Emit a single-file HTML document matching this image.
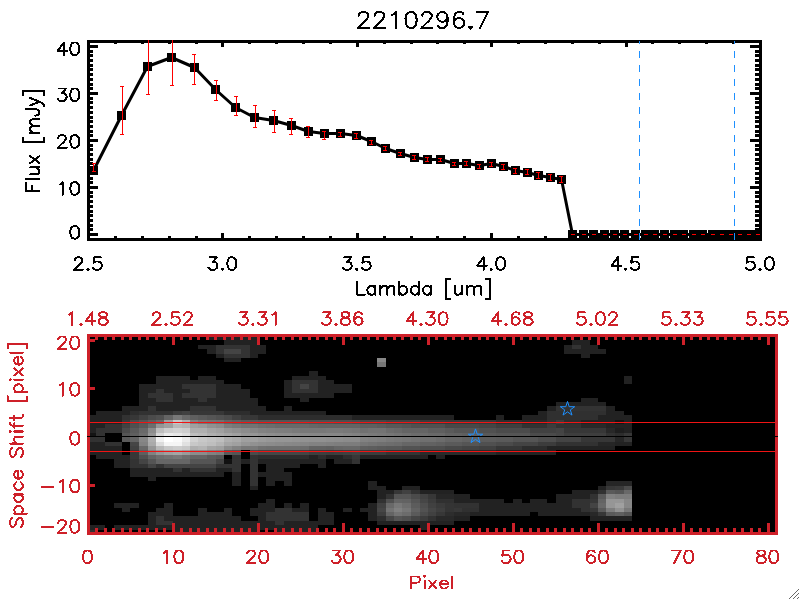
<!DOCTYPE html>
<html><head><meta charset="utf-8"><title>plot</title>
<style>html,body{margin:0;padding:0;background:#fff;font-family:"Liberation Sans",sans-serif}svg{display:block}</style></head>
<body>
<svg width="800" height="600" viewBox="0 0 800 600" shape-rendering="crispEdges">
<rect width="800" height="600" fill="#fff"/>
<g fill="#000"><rect x="114" y="43" width="3" height="1"/><rect x="114" y="236" width="3" height="2"/><rect x="141" y="43" width="3" height="1"/><rect x="141" y="236" width="3" height="2"/><rect x="168" y="43" width="3" height="1"/><rect x="168" y="236" width="3" height="2"/><rect x="195" y="43" width="3" height="1"/><rect x="195" y="236" width="3" height="2"/><rect x="221" y="43" width="3" height="4"/><rect x="221" y="233" width="3" height="5"/><rect x="248" y="43" width="3" height="1"/><rect x="248" y="236" width="3" height="2"/><rect x="275" y="43" width="3" height="1"/><rect x="275" y="236" width="3" height="2"/><rect x="302" y="43" width="3" height="1"/><rect x="302" y="236" width="3" height="2"/><rect x="329" y="43" width="3" height="1"/><rect x="329" y="236" width="3" height="2"/><rect x="356" y="43" width="3" height="4"/><rect x="356" y="233" width="3" height="5"/><rect x="383" y="43" width="3" height="1"/><rect x="383" y="236" width="3" height="2"/><rect x="410" y="43" width="3" height="1"/><rect x="410" y="236" width="3" height="2"/><rect x="436" y="43" width="3" height="1"/><rect x="436" y="236" width="3" height="2"/><rect x="463" y="43" width="3" height="1"/><rect x="463" y="236" width="3" height="2"/><rect x="490" y="43" width="3" height="4"/><rect x="490" y="233" width="3" height="5"/><rect x="517" y="43" width="3" height="1"/><rect x="517" y="236" width="3" height="2"/><rect x="544" y="43" width="3" height="1"/><rect x="544" y="236" width="3" height="2"/><rect x="571" y="43" width="3" height="1"/><rect x="571" y="236" width="3" height="2"/><rect x="598" y="43" width="3" height="1"/><rect x="598" y="236" width="3" height="2"/><rect x="625" y="43" width="3" height="4"/><rect x="625" y="233" width="3" height="5"/><rect x="651" y="43" width="3" height="1"/><rect x="651" y="236" width="3" height="2"/><rect x="678" y="43" width="3" height="1"/><rect x="678" y="236" width="3" height="2"/><rect x="705" y="43" width="3" height="1"/><rect x="705" y="236" width="3" height="2"/><rect x="732" y="43" width="3" height="1"/><rect x="732" y="236" width="3" height="2"/><rect x="90" y="233" width="8" height="3"/><rect x="750" y="233" width="9" height="3"/><rect x="90" y="228" width="3" height="3"/><rect x="755" y="228" width="4" height="3"/><rect x="90" y="224" width="3" height="3"/><rect x="755" y="224" width="4" height="3"/><rect x="90" y="219" width="3" height="3"/><rect x="755" y="219" width="4" height="3"/><rect x="90" y="214" width="3" height="3"/><rect x="755" y="214" width="4" height="3"/><rect x="90" y="210" width="3" height="3"/><rect x="755" y="210" width="4" height="3"/><rect x="90" y="205" width="3" height="3"/><rect x="755" y="205" width="4" height="3"/><rect x="90" y="200" width="3" height="3"/><rect x="755" y="200" width="4" height="3"/><rect x="90" y="195" width="3" height="3"/><rect x="755" y="195" width="4" height="3"/><rect x="90" y="191" width="3" height="3"/><rect x="755" y="191" width="4" height="3"/><rect x="90" y="186" width="8" height="3"/><rect x="750" y="186" width="9" height="3"/><rect x="90" y="181" width="3" height="3"/><rect x="755" y="181" width="4" height="3"/><rect x="90" y="177" width="3" height="3"/><rect x="755" y="177" width="4" height="3"/><rect x="90" y="172" width="3" height="3"/><rect x="755" y="172" width="4" height="3"/><rect x="90" y="167" width="3" height="3"/><rect x="755" y="167" width="4" height="3"/><rect x="90" y="162" width="3" height="3"/><rect x="755" y="162" width="4" height="3"/><rect x="90" y="158" width="3" height="3"/><rect x="755" y="158" width="4" height="3"/><rect x="90" y="153" width="3" height="3"/><rect x="755" y="153" width="4" height="3"/><rect x="90" y="148" width="3" height="3"/><rect x="755" y="148" width="4" height="3"/><rect x="90" y="144" width="3" height="3"/><rect x="755" y="144" width="4" height="3"/><rect x="90" y="139" width="8" height="3"/><rect x="750" y="139" width="9" height="3"/><rect x="90" y="134" width="3" height="3"/><rect x="755" y="134" width="4" height="3"/><rect x="90" y="130" width="3" height="3"/><rect x="755" y="130" width="4" height="3"/><rect x="90" y="125" width="3" height="3"/><rect x="755" y="125" width="4" height="3"/><rect x="90" y="120" width="3" height="3"/><rect x="755" y="120" width="4" height="3"/><rect x="90" y="116" width="3" height="3"/><rect x="755" y="116" width="4" height="3"/><rect x="90" y="111" width="3" height="3"/><rect x="755" y="111" width="4" height="3"/><rect x="90" y="106" width="3" height="3"/><rect x="755" y="106" width="4" height="3"/><rect x="90" y="101" width="3" height="3"/><rect x="755" y="101" width="4" height="3"/><rect x="90" y="97" width="3" height="3"/><rect x="755" y="97" width="4" height="3"/><rect x="90" y="92" width="8" height="3"/><rect x="750" y="92" width="9" height="3"/><rect x="90" y="87" width="3" height="3"/><rect x="755" y="87" width="4" height="3"/><rect x="90" y="83" width="3" height="3"/><rect x="755" y="83" width="4" height="3"/><rect x="90" y="78" width="3" height="3"/><rect x="755" y="78" width="4" height="3"/><rect x="90" y="73" width="3" height="3"/><rect x="755" y="73" width="4" height="3"/><rect x="90" y="68" width="3" height="3"/><rect x="755" y="68" width="4" height="3"/><rect x="90" y="64" width="3" height="3"/><rect x="755" y="64" width="4" height="3"/><rect x="90" y="59" width="3" height="3"/><rect x="755" y="59" width="4" height="3"/><rect x="90" y="54" width="3" height="3"/><rect x="755" y="54" width="4" height="3"/><rect x="90" y="50" width="3" height="3"/><rect x="755" y="50" width="4" height="3"/><rect x="90" y="45" width="8" height="3"/><rect x="750" y="45" width="9" height="3"/></g>
<rect x="88.5" y="41.5" width="672" height="198" fill="none" stroke="#000" stroke-width="3"/>
<clipPath id="c1"><rect x="87" y="40" width="675" height="201"/></clipPath>
<g clip-path="url(#c1)">
<polyline fill="none" stroke="#000" stroke-width="3" stroke-linejoin="round" shape-rendering="auto" points="93.5,170.5 121.5,115.5 147.5,66.5 171.5,57.5 194.5,67.5 215.5,89.5 235.5,107.5 254.5,117.5 273.5,120.5 291.5,125.5 308.5,131.5 324.5,133.5 340.5,133.5 356.5,135.5 371.5,141.5 385.5,148.5 400.5,153.5 414.5,157.5 427.5,159.5 440.5,159.5 454.5,163.5 466.5,163.5 479.5,165.5 491.5,163.5 503.5,166.5 515.5,170.5 527.5,172.5 538.5,175.5 550.5,177.5 561.5,179.5 572.5,234.5 583.5,234.5 593.5,234.5 604.5,234.5 614.5,234.5 624.5,234.5 635.5,234.5 645.5,234.5 654.5,234.5 664.5,234.5 674.5,234.5 683.5,234.5 693.5,234.5 702.5,234.5 712.5,234.5 721.5,234.5 730.5,234.5 739.5,234.5 748.5,234.5 757.5,234.5"/>
<g fill="#000"><rect x="89.0" y="166.0" width="9" height="9"/><rect x="117.0" y="111.0" width="9" height="9"/><rect x="143.0" y="62.0" width="9" height="9"/><rect x="167.0" y="53.0" width="9" height="9"/><rect x="190.0" y="63.0" width="9" height="9"/><rect x="211.0" y="85.0" width="9" height="9"/><rect x="231.0" y="103.0" width="9" height="9"/><rect x="250.0" y="113.0" width="9" height="9"/><rect x="269.0" y="116.0" width="9" height="9"/><rect x="287.0" y="121.0" width="9" height="9"/><rect x="304.0" y="127.0" width="9" height="9"/><rect x="320.0" y="129.0" width="9" height="9"/><rect x="336.0" y="129.0" width="9" height="9"/><rect x="352.0" y="131.0" width="9" height="9"/><rect x="367.0" y="137.0" width="9" height="9"/><rect x="381.0" y="144.0" width="9" height="9"/><rect x="396.0" y="149.0" width="9" height="9"/><rect x="410.0" y="153.0" width="9" height="9"/><rect x="423.0" y="155.0" width="9" height="9"/><rect x="436.0" y="155.0" width="9" height="9"/><rect x="450.0" y="159.0" width="9" height="9"/><rect x="462.0" y="159.0" width="9" height="9"/><rect x="475.0" y="161.0" width="9" height="9"/><rect x="487.0" y="159.0" width="9" height="9"/><rect x="499.0" y="162.0" width="9" height="9"/><rect x="511.0" y="166.0" width="9" height="9"/><rect x="523.0" y="168.0" width="9" height="9"/><rect x="534.0" y="171.0" width="9" height="9"/><rect x="546.0" y="173.0" width="9" height="9"/><rect x="557.0" y="175.0" width="9" height="9"/><rect x="568.0" y="230.0" width="9" height="9"/><rect x="579.0" y="230.0" width="9" height="9"/><rect x="589.0" y="230.0" width="9" height="9"/><rect x="600.0" y="230.0" width="9" height="9"/><rect x="610.0" y="230.0" width="9" height="9"/><rect x="620.0" y="230.0" width="9" height="9"/><rect x="631.0" y="230.0" width="9" height="9"/><rect x="641.0" y="230.0" width="9" height="9"/><rect x="650.0" y="230.0" width="9" height="9"/><rect x="660.0" y="230.0" width="9" height="9"/><rect x="670.0" y="230.0" width="9" height="9"/><rect x="679.0" y="230.0" width="9" height="9"/><rect x="689.0" y="230.0" width="9" height="9"/><rect x="698.0" y="230.0" width="9" height="9"/><rect x="708.0" y="230.0" width="9" height="9"/><rect x="717.0" y="230.0" width="9" height="9"/><rect x="726.0" y="230.0" width="9" height="9"/><rect x="735.0" y="230.0" width="9" height="9"/><rect x="744.0" y="230.0" width="9" height="9"/><rect x="753.0" y="230.0" width="9" height="9"/></g>
<g fill="#f00"><rect x="93" y="163" width="1" height="9"/><rect x="92" y="163" width="4" height="1"/><rect x="92" y="171" width="4" height="1"/><rect x="122" y="86" width="1" height="49"/><rect x="120" y="86" width="4" height="1"/><rect x="120" y="134" width="4" height="1"/><rect x="148" y="29" width="1" height="66"/><rect x="146" y="29" width="4" height="1"/><rect x="146" y="94" width="4" height="1"/><rect x="172" y="29" width="1" height="57"/><rect x="170" y="29" width="4" height="1"/><rect x="170" y="85" width="4" height="1"/><rect x="194" y="54" width="1" height="31"/><rect x="192" y="54" width="4" height="1"/><rect x="192" y="84" width="4" height="1"/><rect x="216" y="80" width="1" height="21"/><rect x="214" y="80" width="4" height="1"/><rect x="214" y="100" width="4" height="1"/><rect x="236" y="96" width="1" height="20"/><rect x="234" y="96" width="4" height="1"/><rect x="234" y="115" width="4" height="1"/><rect x="255" y="105" width="1" height="23"/><rect x="253" y="105" width="4" height="1"/><rect x="253" y="127" width="4" height="1"/><rect x="274" y="110" width="1" height="23"/><rect x="272" y="110" width="4" height="1"/><rect x="272" y="132" width="4" height="1"/><rect x="291" y="118" width="1" height="17"/><rect x="289" y="118" width="4" height="1"/><rect x="289" y="134" width="4" height="1"/><rect x="308" y="126" width="1" height="12"/><rect x="306" y="126" width="4" height="1"/><rect x="306" y="137" width="4" height="1"/><rect x="324" y="131" width="1" height="9"/><rect x="322" y="131" width="4" height="1"/><rect x="322" y="139" width="4" height="1"/><rect x="340" y="132" width="1" height="5"/><rect x="338" y="132" width="4" height="1"/><rect x="338" y="136" width="4" height="1"/><rect x="356" y="133" width="1" height="6"/><rect x="354" y="133" width="4" height="1"/><rect x="354" y="138" width="4" height="1"/><rect x="371" y="140" width="1" height="5"/><rect x="369" y="140" width="4" height="1"/><rect x="369" y="144" width="4" height="1"/><rect x="385" y="146" width="1" height="5"/><rect x="383" y="146" width="4" height="1"/><rect x="383" y="150" width="4" height="1"/><rect x="400" y="152" width="1" height="4"/><rect x="398" y="152" width="4" height="1"/><rect x="398" y="155" width="4" height="1"/><rect x="414" y="155" width="1" height="5"/><rect x="412" y="155" width="4" height="1"/><rect x="412" y="159" width="4" height="1"/><rect x="427" y="157" width="1" height="5"/><rect x="425" y="157" width="4" height="1"/><rect x="425" y="161" width="4" height="1"/><rect x="440" y="158" width="1" height="4"/><rect x="438" y="158" width="4" height="1"/><rect x="438" y="161" width="4" height="1"/><rect x="454" y="162" width="1" height="4"/><rect x="452" y="162" width="4" height="1"/><rect x="452" y="165" width="4" height="1"/><rect x="466" y="161" width="1" height="5"/><rect x="464" y="161" width="4" height="1"/><rect x="464" y="165" width="4" height="1"/><rect x="479" y="164" width="1" height="5"/><rect x="477" y="164" width="4" height="1"/><rect x="477" y="168" width="4" height="1"/><rect x="491" y="162" width="1" height="5"/><rect x="489" y="162" width="4" height="1"/><rect x="489" y="166" width="4" height="1"/><rect x="503" y="164" width="1" height="6"/><rect x="501" y="164" width="4" height="1"/><rect x="501" y="169" width="4" height="1"/><rect x="515" y="168" width="1" height="6"/><rect x="513" y="168" width="4" height="1"/><rect x="513" y="173" width="4" height="1"/><rect x="527" y="169" width="1" height="6"/><rect x="525" y="169" width="4" height="1"/><rect x="525" y="174" width="4" height="1"/><rect x="538" y="172" width="1" height="7"/><rect x="536" y="172" width="4" height="1"/><rect x="536" y="178" width="4" height="1"/><rect x="550" y="174" width="1" height="7"/><rect x="548" y="174" width="4" height="1"/><rect x="548" y="180" width="4" height="1"/><rect x="561" y="176" width="1" height="7"/><rect x="559" y="176" width="4" height="1"/><rect x="559" y="182" width="4" height="1"/><rect x="571" y="234" width="4" height="1"/><rect x="582" y="234" width="4" height="1"/><rect x="592" y="234" width="4" height="1"/><rect x="603" y="234" width="4" height="1"/><rect x="613" y="234" width="4" height="1"/><rect x="623" y="234" width="4" height="1"/><rect x="634" y="234" width="4" height="1"/><rect x="644" y="234" width="4" height="1"/><rect x="653" y="234" width="4" height="1"/><rect x="663" y="234" width="4" height="1"/><rect x="673" y="234" width="4" height="1"/><rect x="682" y="234" width="4" height="1"/><rect x="692" y="234" width="4" height="1"/><rect x="701" y="234" width="4" height="1"/><rect x="711" y="234" width="4" height="1"/><rect x="720" y="234" width="4" height="1"/><rect x="729" y="234" width="4" height="1"/><rect x="738" y="234" width="4" height="1"/><rect x="747" y="234" width="4" height="1"/><rect x="756" y="234" width="4" height="1"/></g>
</g>
<g fill="#1e90ff"><rect x="639" y="41" width="1" height="3"/><rect x="639" y="51" width="1" height="7"/><rect x="639" y="65" width="1" height="7"/><rect x="639" y="79" width="1" height="7"/><rect x="639" y="93" width="1" height="7"/><rect x="639" y="107" width="1" height="7"/><rect x="639" y="121" width="1" height="7"/><rect x="639" y="135" width="1" height="7"/><rect x="639" y="149" width="1" height="7"/><rect x="639" y="163" width="1" height="7"/><rect x="639" y="177" width="1" height="7"/><rect x="639" y="191" width="1" height="7"/><rect x="639" y="205" width="1" height="7"/><rect x="639" y="219" width="1" height="7"/><rect x="639" y="233" width="1" height="7"/></g>
<g fill="#1e90ff"><rect x="734" y="41" width="1" height="3"/><rect x="734" y="51" width="1" height="7"/><rect x="734" y="65" width="1" height="7"/><rect x="734" y="79" width="1" height="7"/><rect x="734" y="93" width="1" height="7"/><rect x="734" y="107" width="1" height="7"/><rect x="734" y="121" width="1" height="7"/><rect x="734" y="135" width="1" height="7"/><rect x="734" y="149" width="1" height="7"/><rect x="734" y="163" width="1" height="7"/><rect x="734" y="177" width="1" height="7"/><rect x="734" y="191" width="1" height="7"/><rect x="734" y="205" width="1" height="7"/><rect x="734" y="219" width="1" height="7"/><rect x="734" y="233" width="1" height="7"/></g>
<path fill="#000" d="M467.8 26.2L473.2 26.2L473.2 26.9L471.1 29.8L469.9 29.8L467.8 26.9ZM488.3 11.0L476.6 11.0L476.3 11.1L475.9 11.7L475.9 12.2L476.0 12.5L476.6 12.9L486.3 13.0L479.1 27.6L479.0 28.3L479.2 28.5L479.8 29.0L480.3 29.0L480.9 28.5L488.9 12.3L488.9 11.6L488.7 11.3ZM458.3 11.0L455.7 11.9L455.4 12.1L453.8 14.4L452.9 18.5L452.9 23.0L453.8 26.2L455.5 28.0L455.9 28.2L458.3 29.0L459.7 29.0L462.1 28.2L464.1 26.4L464.4 26.1L465.2 23.8L465.2 22.4L464.4 20.1L464.1 19.7L462.1 17.9L459.7 17.1L458.3 17.1L455.9 17.9L455.1 18.6L455.0 18.5L455.6 15.5L457.0 13.5L458.8 12.9L460.0 12.9L461.8 13.5L462.5 14.7L463.1 15.2L463.6 15.2L463.9 15.1L464.4 14.5L464.3 13.8L463.5 12.3L462.9 11.8L460.5 11.0ZM458.8 19.0L459.5 19.1L461.2 19.7L462.5 20.9L463.2 22.9L463.1 23.5L462.5 25.2L461.2 26.4L459.2 27.1L458.6 27.0L456.8 26.4L455.5 25.2L454.9 22.9L455.5 20.9L456.8 19.7ZM441.7 11.0L439.3 11.8L437.3 13.6L437.0 13.9L436.2 16.2L436.2 17.6L437.0 19.9L437.3 20.3L439.3 22.1L441.7 22.9L443.1 22.9L445.5 22.1L446.3 21.4L446.4 21.5L445.8 24.5L444.4 26.5L442.6 27.1L441.4 27.1L439.6 26.5L438.9 25.3L438.3 24.8L437.8 24.8L437.5 24.9L437.0 25.5L437.1 26.2L437.9 27.7L438.5 28.2L440.9 29.0L443.1 29.0L445.7 28.1L446.0 27.8L447.6 25.5L448.5 21.5L448.5 17.0L447.6 13.7L445.9 12.0L445.5 11.8L443.1 11.0ZM442.2 12.9L442.8 13.0L444.6 13.6L445.9 14.8L446.5 17.1L445.9 19.0L444.6 20.3L442.6 20.9L441.9 20.9L440.2 20.3L438.9 19.0L438.2 17.1L438.3 16.5L438.9 14.8L440.2 13.6ZM424.9 11.1L423.3 11.8L422.0 13.0L421.2 14.8L421.2 16.0L421.6 16.6L421.9 16.7L422.4 16.7L422.7 16.6L423.2 16.0L423.2 15.3L423.8 14.1L424.4 13.5L425.6 12.9L428.2 12.9L429.4 13.5L430.1 14.1L430.7 15.3L430.7 16.3L430.0 17.7L428.6 19.6L420.7 27.3L420.4 27.8L420.4 28.3L420.5 28.5L421.1 29.0L432.7 29.0L433.0 28.9L433.5 28.3L433.5 27.8L433.3 27.5L432.7 27.1L423.9 27.0L430.2 20.9L431.7 18.7L432.7 16.8L432.6 14.6L431.8 13.0L430.8 12.0L428.8 11.0ZM410.0 11.0L407.4 11.9L407.1 12.1L405.5 14.4L404.5 18.5L404.5 21.5L405.3 25.2L407.1 27.8L407.6 28.2L410.0 29.0L412.2 29.0L414.8 28.1L415.1 27.8L416.7 25.5L417.6 21.5L417.6 18.5L416.8 14.8L415.1 12.1L414.6 11.8L412.2 11.0ZM410.5 12.9L411.7 12.9L413.5 13.5L414.9 15.5L415.6 19.0L415.6 21.0L414.9 24.5L413.5 26.5L411.7 27.1L410.5 27.1L408.6 26.5L407.3 24.5L406.5 21.0L406.5 19.0L407.3 15.5L408.6 13.5ZM395.8 11.0L395.3 11.3L393.0 13.5L391.6 14.1L391.1 14.8L391.1 15.3L391.5 15.8L391.8 16.0L392.3 16.0L394.1 15.1L395.0 14.4L395.0 14.4L395.0 28.3L395.5 28.9L395.8 29.0L396.3 29.0L396.6 28.9L397.0 28.3L397.0 11.7L396.6 11.1L396.3 11.0ZM377.3 11.1L375.8 11.8L374.5 13.0L373.6 14.8L373.6 16.0L374.1 16.6L374.4 16.7L374.9 16.7L375.2 16.6L375.6 16.0L375.6 15.3L376.2 14.1L376.9 13.5L378.1 12.9L380.7 12.9L381.9 13.5L382.6 14.1L383.1 15.3L383.1 16.3L382.4 17.7L381.1 19.6L373.1 27.3L372.8 27.8L372.8 28.3L373.0 28.5L373.6 29.0L385.2 29.0L385.5 28.9L385.9 28.3L385.9 27.8L385.8 27.5L385.2 27.1L376.3 27.0L382.6 20.9L384.2 18.7L385.1 16.8L385.1 14.6L384.3 13.0L383.3 12.0L381.2 11.0ZM361.5 11.1L359.9 11.8L358.7 13.0L357.8 14.8L357.8 16.0L358.3 16.6L358.5 16.7L359.0 16.7L359.3 16.6L359.8 16.0L359.8 15.3L360.4 14.1L361.0 13.5L362.2 12.9L364.9 12.9L366.0 13.5L366.7 14.1L367.3 15.3L367.3 16.3L366.6 17.7L365.3 19.6L357.3 27.3L357.0 27.8L357.0 28.3L357.1 28.5L357.7 29.0L369.3 29.0L369.6 28.9L370.1 28.3L370.1 27.8L369.9 27.5L369.3 27.1L360.5 27.0L366.8 20.9L368.4 18.7L369.3 16.8L369.2 14.6L368.4 13.0L367.4 12.0L365.4 11.0Z"/>
<path fill="#000" d="M73.9 41.5L71.7 42.2L71.3 42.6L70.1 44.4L69.3 47.9L69.3 49.6L69.9 52.9L71.3 54.9L71.9 55.4L73.8 56.0L75.7 56.0L77.8 55.3L78.2 54.9L79.6 52.9L80.2 49.6L80.2 47.9L79.5 44.5L78.2 42.6L77.6 42.1L75.8 41.6ZM74.2 43.4L75.4 43.4L76.5 43.8L76.8 44.1L77.6 45.2L78.2 47.9L78.2 49.7L77.7 52.2L76.6 53.7L75.2 54.1L74.3 54.1L73.0 53.8L72.8 53.6L71.9 52.2L71.3 49.7L71.3 47.9L71.9 45.2L73.0 43.8ZM63.7 41.5L63.2 41.9L56.7 50.6L56.7 51.1L57.2 51.7L57.5 51.8L63.0 51.8L63.0 55.4L63.6 55.9L64.3 56.0L64.9 55.6L65.0 55.2L65.0 51.9L67.6 51.8L68.0 51.4L68.2 50.7L68.0 50.4L67.4 49.9L65.0 49.9L65.0 42.2L64.5 41.6ZM63.0 45.5L63.0 49.8L62.9 49.9L59.7 49.9L59.7 49.9Z"/>
<path fill="#000" d="M73.9 87.5L71.7 88.2L71.3 88.6L70.1 90.4L69.3 93.9L69.3 95.6L69.9 98.9L71.3 100.9L71.9 101.4L73.8 102.0L75.7 102.0L77.8 101.3L78.2 100.9L79.6 98.9L80.2 95.6L80.2 93.9L79.5 90.5L78.2 88.6L77.6 88.1L75.8 87.6ZM74.2 89.4L75.4 89.4L76.5 89.8L76.8 90.1L77.6 91.2L78.2 93.9L78.2 95.7L77.7 98.2L76.6 99.7L75.2 100.1L74.3 100.1L73.0 99.8L72.8 99.6L71.9 98.2L71.3 95.7L71.3 93.9L71.9 91.2L73.0 89.8ZM58.5 87.6L58.1 87.9L57.9 88.2L57.9 88.7L58.1 89.0L58.6 89.4L63.8 89.5L61.3 92.6L61.1 93.0L61.1 93.5L61.3 93.9L61.8 94.2L63.7 94.2L64.7 94.7L65.1 95.1L65.5 96.4L65.5 97.4L65.1 98.7L64.0 99.7L62.6 100.1L61.0 100.1L59.5 99.6L59.1 99.3L58.5 98.1L57.7 97.7L57.4 97.8L56.8 98.1L56.7 98.4L56.8 99.1L57.5 100.4L58.3 101.2L60.5 102.0L63.0 102.0L65.0 101.4L66.7 99.9L66.9 99.5L67.5 97.8L67.6 96.2L66.7 93.9L65.9 93.1L64.1 92.2L66.7 89.1L66.9 88.6L66.8 88.1L66.5 87.7L66.1 87.5Z"/>
<path fill="#000" d="M73.9 134.2L71.7 134.9L71.3 135.3L70.1 137.1L69.3 140.6L69.3 142.3L69.9 145.6L71.3 147.6L71.9 148.1L73.8 148.7L75.7 148.7L77.8 148.0L78.2 147.6L79.6 145.6L80.2 142.3L80.2 140.6L79.5 137.2L78.2 135.3L77.6 134.8L75.8 134.3ZM74.2 136.1L75.4 136.1L76.5 136.5L76.8 136.8L77.6 137.9L78.2 140.6L78.2 142.4L77.7 144.9L76.6 146.4L75.2 146.8L74.3 146.8L73.0 146.4L72.8 146.3L71.9 144.9L71.3 142.4L71.3 140.6L71.9 137.9L73.0 136.5ZM60.5 134.3L59.0 134.9L58.1 135.8L57.3 137.4L57.3 138.3L57.4 138.6L57.9 139.1L58.3 139.1L58.8 139.0L59.3 138.5L59.3 137.7L59.7 136.9L60.2 136.5L61.0 136.1L63.2 136.1L64.0 136.5L64.5 136.9L64.9 137.7L64.9 138.6L63.3 141.1L56.9 147.1L56.7 147.4L56.7 148.1L57.0 148.5L57.4 148.7L67.0 148.6L67.5 148.1L67.5 147.4L67.2 147.0L66.8 146.8L60.1 146.8L64.7 142.4L66.1 140.5L66.9 138.9L66.8 137.2L66.1 135.8L65.2 134.9L63.6 134.2Z"/>
<path fill="#000" d="M73.9 181.2L71.7 181.9L71.3 182.3L70.1 184.1L69.3 187.6L69.3 189.3L69.9 192.6L71.3 194.6L71.9 195.1L73.8 195.7L75.7 195.7L77.8 195.0L78.2 194.6L79.6 192.6L80.2 189.3L80.2 187.6L79.5 184.2L78.2 182.3L77.6 181.8L75.8 181.3ZM74.2 183.1L75.4 183.1L76.5 183.5L76.8 183.8L77.6 184.9L78.2 187.6L78.2 189.4L77.7 191.9L76.6 193.4L75.2 193.8L74.3 193.8L73.0 193.4L72.8 193.3L71.9 191.9L71.3 189.4L71.3 187.6L71.9 184.9L73.0 183.5ZM62.6 181.2L62.0 181.5L60.1 183.3L59.0 183.8L58.7 184.0L58.5 184.6L58.7 185.1L59.3 185.5L60.0 185.4L61.5 184.6L61.7 184.6L61.7 194.8L61.9 195.3L62.2 195.6L62.5 195.7L63.0 195.7L63.6 195.3L63.7 194.9L63.7 182.0L63.4 181.4L62.9 181.2Z"/>
<path fill="#000" d="M73.9 225.0L71.7 225.8L71.3 226.1L70.1 227.9L69.3 231.4L69.3 233.1L69.9 236.4L71.3 238.4L71.9 238.9L73.8 239.5L75.7 239.5L77.8 238.8L78.2 238.4L79.6 236.4L80.2 233.1L80.2 231.4L79.5 228.0L78.2 226.1L77.6 225.6L75.8 225.1ZM74.2 226.9L75.4 226.9L76.5 227.3L76.8 227.6L77.6 228.7L78.2 231.4L78.2 233.2L77.7 235.7L76.6 237.2L75.2 237.6L74.3 237.6L73.0 237.2L72.8 237.1L71.9 235.7L71.3 233.2L71.3 231.4L71.9 228.7L73.0 227.3Z"/>
<path fill="#000" d="M87.9 267.7L87.3 267.9L86.5 268.7L86.3 269.1L86.3 269.4L86.5 269.9L87.2 270.6L87.7 270.8L88.2 270.8L88.7 270.6L89.3 269.9L89.6 269.4L89.6 269.1L89.4 268.7L88.5 267.9ZM93.9 256.4L93.4 256.7L93.2 257.4L92.6 262.8L92.8 263.2L93.2 263.6L93.9 263.6L94.3 263.4L94.9 262.9L96.2 262.4L98.0 262.4L99.5 262.9L100.4 263.9L100.9 265.2L100.9 266.2L100.4 267.5L99.3 268.5L97.9 268.9L96.4 268.9L94.8 268.4L94.5 268.1L93.8 266.9L93.1 266.5L92.7 266.6L92.2 266.9L92.0 267.2L92.1 267.9L92.8 269.2L93.7 270.1L95.8 270.8L98.4 270.8L100.3 270.2L102.0 268.7L102.2 268.3L102.8 266.6L102.9 265.1L102.0 262.7L100.6 261.3L98.4 260.6L96.1 260.5L95.0 260.9L94.9 260.8L95.2 258.2L100.7 258.2L101.2 258.1L101.5 257.8L101.6 257.5L101.6 257.0L101.1 256.4L100.7 256.3ZM76.8 256.4L75.3 257.1L74.4 257.9L73.6 259.5L73.6 260.4L73.8 260.7L74.3 261.2L74.7 261.2L75.1 261.1L75.6 260.6L75.7 259.8L76.1 259.1L76.5 258.6L77.3 258.2L79.6 258.2L80.4 258.6L80.8 259.1L81.2 259.8L81.2 260.7L79.6 263.2L73.2 269.2L73.0 269.6L73.0 270.2L73.4 270.6L73.8 270.8L83.3 270.7L83.8 270.2L83.8 269.6L83.5 269.1L83.1 268.9L76.5 268.9L81.1 264.6L82.5 262.6L83.3 261.0L83.2 259.3L82.5 257.9L81.5 257.1L79.9 256.3Z"/>
<path fill="#000" d="M222.3 267.7L221.7 267.9L220.9 268.7L220.7 269.1L220.7 269.4L220.9 269.9L221.6 270.6L222.1 270.8L222.6 270.8L223.1 270.6L223.7 269.9L224.0 269.4L224.0 269.1L223.8 268.7L222.9 267.9ZM231.0 256.3L228.7 257.1L228.4 257.4L227.1 259.2L226.4 262.7L226.4 264.4L227.0 267.7L228.4 269.7L228.9 270.2L230.9 270.8L232.8 270.8L234.9 270.1L235.3 269.7L236.6 267.7L237.3 264.4L237.3 262.7L236.6 259.3L235.3 257.4L234.7 256.9L232.9 256.4ZM231.2 258.2L232.4 258.2L233.6 258.6L233.9 258.9L234.7 260.0L235.3 262.7L235.3 264.5L234.7 267.0L233.7 268.5L232.3 268.9L231.4 268.9L230.1 268.6L229.9 268.4L228.9 267.0L228.4 264.5L228.4 262.7L229.0 260.0L230.0 258.6ZM209.3 256.4L208.8 256.7L208.7 257.0L208.7 257.5L208.8 257.8L209.3 258.2L214.6 258.3L212.0 261.4L211.8 261.8L211.8 262.3L212.0 262.7L212.5 263.0L214.4 263.0L215.5 263.5L215.8 263.9L216.3 265.2L216.3 266.2L215.8 267.5L214.8 268.5L213.3 268.9L211.8 268.9L210.2 268.4L209.9 268.1L209.2 266.9L208.5 266.5L208.1 266.6L207.6 266.9L207.4 267.2L207.5 267.9L208.2 269.2L209.1 270.1L211.3 270.8L213.8 270.8L215.7 270.2L217.4 268.7L217.7 268.3L218.2 266.6L218.3 265.1L217.5 262.7L216.7 261.9L214.9 261.1L217.5 257.9L217.7 257.4L217.6 256.9L217.3 256.5L216.8 256.3Z"/>
<path fill="#000" d="M356.7 267.7L356.1 267.9L355.3 268.7L355.1 269.1L355.1 269.4L355.3 269.9L356.0 270.6L356.5 270.8L357.0 270.8L357.5 270.6L358.1 269.9L358.4 269.4L358.4 269.1L358.2 268.7L357.3 267.9ZM362.7 256.4L362.2 256.7L362.0 257.4L361.4 262.8L361.6 263.2L362.0 263.6L362.7 263.6L363.1 263.4L363.7 262.9L365.0 262.4L366.8 262.4L368.3 262.9L369.2 263.9L369.7 265.2L369.7 266.2L369.2 267.5L368.1 268.5L366.7 268.9L365.2 268.9L363.6 268.4L363.3 268.1L362.6 266.9L361.9 266.5L361.5 266.6L361.0 266.9L360.8 267.2L360.9 267.9L361.6 269.2L362.5 270.1L364.6 270.8L367.2 270.8L369.1 270.2L370.8 268.7L371.0 268.3L371.6 266.6L371.7 265.1L370.8 262.7L369.4 261.3L367.2 260.6L364.9 260.5L363.8 260.9L363.7 260.8L364.0 258.2L369.5 258.2L370.0 258.1L370.3 257.8L370.4 257.5L370.4 257.0L369.9 256.4L369.5 256.3ZM343.7 256.4L343.2 256.7L343.1 257.0L343.1 257.5L343.2 257.8L343.7 258.2L349.0 258.3L346.4 261.4L346.2 261.8L346.2 262.3L346.4 262.7L346.9 263.0L348.8 263.0L349.9 263.5L350.2 263.9L350.7 265.2L350.7 266.2L350.2 267.5L349.2 268.5L347.7 268.9L346.2 268.9L344.6 268.4L344.3 268.1L343.6 266.9L342.9 266.5L342.5 266.6L342.0 266.9L341.8 267.2L341.9 267.9L342.6 269.2L343.5 270.1L345.7 270.8L348.2 270.8L350.1 270.2L351.8 268.7L352.1 268.3L352.6 266.6L352.7 265.1L351.9 262.7L351.1 261.9L349.3 261.1L351.9 257.9L352.1 257.4L352.0 256.9L351.7 256.5L351.2 256.3Z"/>
<path fill="#000" d="M491.1 267.7L490.5 267.9L489.7 268.7L489.5 269.1L489.5 269.4L489.7 269.9L490.4 270.6L490.9 270.8L491.4 270.8L491.9 270.6L492.5 269.9L492.8 269.4L492.8 269.1L492.6 268.7L491.7 267.9ZM499.8 256.3L497.5 257.1L497.2 257.4L495.9 259.2L495.2 262.7L495.2 264.4L495.8 267.7L497.2 269.7L497.7 270.2L499.7 270.8L501.6 270.8L503.7 270.1L504.1 269.7L505.4 267.7L506.1 264.4L506.1 262.7L505.4 259.3L504.1 257.4L503.5 256.9L501.7 256.4ZM500.0 258.2L501.2 258.2L502.4 258.6L502.7 258.9L503.5 260.0L504.1 262.7L504.1 264.5L503.5 267.0L502.5 268.5L501.1 268.9L500.2 268.9L498.9 268.6L498.7 268.4L497.7 267.0L497.2 264.5L497.2 262.7L497.8 260.0L498.8 258.6ZM483.3 256.3L482.7 256.7L476.2 265.4L476.2 265.9L476.7 266.5L477.0 266.6L482.5 266.6L482.6 270.2L483.1 270.7L483.8 270.8L484.4 270.4L484.5 270.1L484.5 266.7L487.1 266.6L487.6 266.2L487.7 265.5L487.6 265.2L487.0 264.7L484.5 264.7L484.5 257.0L484.1 256.4ZM482.5 260.3L482.6 264.6L482.4 264.7L479.3 264.7L479.2 264.7Z"/>
<path fill="#000" d="M625.5 267.7L624.9 267.9L624.1 268.7L623.9 269.1L623.9 269.4L624.1 269.9L624.8 270.6L625.3 270.8L625.8 270.8L626.3 270.6L626.9 269.9L627.2 269.4L627.2 269.1L627.0 268.7L626.1 267.9ZM631.5 256.4L631.0 256.7L630.8 257.4L630.2 262.8L630.4 263.2L630.8 263.6L631.5 263.6L631.9 263.4L632.5 262.9L633.8 262.4L635.6 262.4L637.1 262.9L638.0 263.9L638.5 265.2L638.5 266.2L638.0 267.5L636.9 268.5L635.5 268.9L634.0 268.9L632.4 268.4L632.1 268.1L631.4 266.9L630.7 266.5L630.3 266.6L629.8 266.9L629.6 267.2L629.7 267.9L630.4 269.2L631.3 270.1L633.4 270.8L636.0 270.8L637.9 270.2L639.6 268.7L639.8 268.3L640.4 266.6L640.5 265.1L639.6 262.7L638.2 261.3L636.0 260.6L633.7 260.5L632.6 260.9L632.5 260.8L632.8 258.2L638.3 258.2L638.8 258.1L639.1 257.8L639.2 257.5L639.2 257.0L638.7 256.4L638.3 256.3ZM617.7 256.3L617.1 256.7L610.6 265.4L610.6 265.9L611.1 266.5L611.4 266.6L616.9 266.6L617.0 270.2L617.5 270.7L618.2 270.8L618.8 270.4L618.9 270.1L618.9 266.7L621.5 266.6L622.0 266.2L622.1 265.5L622.0 265.2L621.4 264.7L618.9 264.7L618.9 257.0L618.5 256.4ZM616.9 260.3L617.0 264.6L616.8 264.7L613.7 264.7L613.6 264.7Z"/>
<path fill="#000" d="M759.9 267.7L759.3 267.9L758.5 268.7L758.3 269.1L758.3 269.4L758.5 269.9L759.2 270.6L759.7 270.8L760.2 270.8L760.7 270.6L761.3 269.9L761.6 269.4L761.6 269.1L761.4 268.7L760.5 267.9ZM768.6 256.3L766.3 257.1L766.0 257.4L764.7 259.2L764.0 262.7L764.0 264.4L764.6 267.7L766.0 269.7L766.5 270.2L768.5 270.8L770.4 270.8L772.5 270.1L772.9 269.7L774.2 267.7L774.9 264.4L774.9 262.7L774.2 259.3L772.9 257.4L772.3 256.9L770.5 256.4ZM768.8 258.2L770.0 258.2L771.2 258.6L771.5 258.9L772.3 260.0L772.9 262.7L772.9 264.5L772.3 267.0L771.3 268.5L769.9 268.9L769.0 268.9L767.7 268.6L767.5 268.4L766.5 267.0L766.0 264.5L766.0 262.7L766.6 260.0L767.6 258.6ZM746.9 256.4L746.4 256.7L746.2 257.4L745.6 262.8L745.8 263.2L746.2 263.6L746.9 263.6L747.3 263.4L747.9 262.9L749.3 262.4L751.0 262.4L752.5 262.9L753.4 263.9L753.9 265.2L753.9 266.2L753.4 267.5L752.4 268.5L750.9 268.9L749.4 268.9L747.8 268.4L747.5 268.1L746.8 266.9L746.1 266.5L745.7 266.6L745.2 266.9L745.0 267.2L745.1 267.9L745.8 269.2L746.7 270.1L748.9 270.8L751.4 270.8L753.3 270.2L755.0 268.7L755.3 268.3L755.8 266.6L755.9 265.1L755.1 262.7L753.6 261.3L751.4 260.6L749.1 260.5L748.0 260.9L747.9 260.8L748.2 258.2L753.7 258.2L754.2 258.1L754.5 257.8L754.6 257.5L754.6 257.0L754.1 256.4L753.7 256.3Z"/>
<path fill="#000" d="M466.2 285.5L466.0 285.9L466.0 294.7L466.2 295.2L466.5 295.4L466.8 295.6L467.4 295.6L468.0 295.1L468.1 294.7L468.1 288.8L469.6 287.4L470.4 286.9L472.0 286.9L472.6 287.2L472.8 287.5L473.1 288.6L473.1 294.8L473.2 295.1L473.6 295.4L473.8 295.6L474.6 295.5L475.1 294.9L475.1 288.9L476.7 287.3L477.5 286.9L479.0 286.9L479.7 287.3L480.2 288.7L480.2 294.9L480.5 295.4L480.9 295.6L481.4 295.6L482.0 295.1L482.2 294.8L482.2 288.2L481.5 286.2L481.0 285.7L479.3 285.0L477.2 285.0L475.5 285.7L474.6 286.6L474.1 285.8L472.2 285.0L469.9 285.0L468.6 285.7L468.2 286.0L468.0 285.5L467.4 285.0L466.7 285.0ZM454.3 285.1L453.9 285.7L453.9 292.3L454.7 294.5L455.2 294.9L456.6 295.6L459.1 295.6L460.5 294.9L460.9 294.6L461.0 294.7L461.0 294.9L461.2 295.2L461.5 295.5L462.3 295.6L462.5 295.4L462.9 295.1L463.0 294.8L463.0 285.7L462.8 285.3L462.3 285.0L461.9 285.0L461.4 285.1L461.0 285.7L461.0 291.7L459.5 293.2L458.5 293.6L457.1 293.6L456.4 293.2L455.9 291.8L455.9 285.7L455.8 285.4L455.3 285.0L454.9 285.0ZM424.4 285.7L422.7 287.5L422.0 289.5L422.0 291.1L422.8 293.3L424.3 294.8L425.9 295.6L428.4 295.6L429.6 295.0L430.4 295.6L430.9 295.6L431.3 295.4L431.5 295.2L431.7 294.7L431.7 285.9L431.6 285.5L431.2 285.1L430.7 285.0L430.2 285.1L429.7 285.6L428.2 285.0L426.1 285.0ZM426.4 286.9L427.9 286.9L428.7 287.3L429.7 288.2L429.7 292.3L428.8 293.2L427.9 293.6L426.5 293.6L425.5 293.2L424.5 292.2L424.1 290.9L424.0 289.9L424.5 288.4L425.6 287.3ZM379.4 285.4L379.2 285.7L379.2 294.9L379.7 295.4L380.0 295.6L380.5 295.6L380.8 295.4L381.2 294.9L381.2 288.9L382.8 287.3L383.6 286.9L385.1 286.9L385.7 287.2L385.9 287.5L386.2 288.4L386.2 294.7L386.4 295.2L386.7 295.4L387.0 295.6L387.5 295.6L388.1 295.1L388.3 294.7L388.3 288.8L389.7 287.4L390.6 286.9L392.2 286.9L392.8 287.3L393.3 288.6L393.3 294.8L393.4 295.1L394.0 295.6L394.7 295.5L395.2 295.0L395.3 294.6L395.3 288.4L394.7 286.4L394.5 286.0L394.1 285.7L392.7 285.0L390.4 285.0L388.7 285.7L387.7 286.6L387.5 286.0L387.1 285.7L385.4 285.0L383.1 285.0L381.7 285.7L381.3 286.0L381.1 285.4L380.6 285.0L379.9 285.0ZM368.9 285.7L367.2 287.3L366.4 289.3L366.4 291.2L367.2 293.3L368.8 294.8L370.4 295.6L372.8 295.6L374.1 294.9L374.6 295.4L374.8 295.6L375.4 295.6L375.8 295.4L376.0 295.0L376.2 294.6L376.2 286.0L376.0 285.4L375.7 285.1L375.2 285.0L374.5 285.1L374.2 285.6L372.6 285.0L370.6 285.0ZM370.8 286.9L372.4 286.9L373.2 287.3L374.1 288.2L374.1 292.3L373.2 293.2L372.3 293.6L370.9 293.6L370.0 293.2L369.0 292.2L368.4 290.7L368.4 289.8L368.9 288.4L370.0 287.3ZM418.9 280.7L418.1 280.7L417.5 281.4L417.5 285.6L416.0 285.0L413.8 285.0L412.2 285.8L410.7 287.2L410.5 287.6L409.8 289.6L409.9 291.3L410.5 293.0L410.8 293.4L412.3 294.9L413.6 295.5L416.3 295.6L417.5 294.9L418.0 295.4L418.3 295.6L418.8 295.6L419.1 295.4L419.5 294.9L419.5 281.4ZM414.3 286.9L415.8 286.9L416.6 287.3L417.5 288.2L417.5 292.3L416.7 293.1L415.7 293.6L414.4 293.6L413.5 293.2L412.4 292.2L411.9 290.8L411.9 289.8L412.4 288.3L413.4 287.4ZM399.0 280.7L398.4 281.4L398.4 294.9L398.5 295.1L399.1 295.6L399.6 295.6L399.9 295.4L400.4 294.9L401.6 295.6L404.3 295.5L405.6 294.9L407.2 293.4L407.4 293.0L408.1 290.9L408.1 289.6L407.4 287.6L407.2 287.2L405.8 285.8L404.2 285.0L401.9 285.0L400.4 285.6L400.4 281.4L399.8 280.7ZM402.1 286.9L403.6 286.9L404.6 287.4L405.5 288.3L406.0 289.8L406.0 290.8L405.6 292.2L404.4 293.2L403.6 293.6L402.2 293.6L401.2 293.1L400.4 292.3L400.4 288.2L401.3 287.3ZM356.6 280.8L356.2 281.5L356.2 294.8L356.3 295.1L356.9 295.6L365.2 295.6L365.4 295.4L365.8 295.0L365.9 294.5L365.8 294.1L365.2 293.6L358.3 293.6L358.3 281.6L358.1 281.2L357.6 280.7L357.1 280.6ZM485.3 278.2L485.1 278.3L484.6 278.9L484.6 279.4L485.1 280.0L485.3 280.1L489.1 280.2L489.1 297.9L485.4 297.9L485.1 298.1L484.7 298.4L484.6 298.6L484.6 299.2L484.9 299.7L485.6 299.9L490.1 299.9L490.7 299.7L490.9 299.5L491.1 299.0L491.1 279.1L490.9 278.6L490.4 278.2ZM445.7 278.2L445.2 278.6L445.0 279.1L445.0 299.0L445.2 299.5L445.4 299.7L446.0 299.9L450.8 299.9L451.3 299.5L451.5 299.2L451.5 298.6L451.0 298.1L450.7 297.9L447.0 297.9L447.0 280.2L450.7 280.1L451.3 279.7L451.5 279.4L451.5 278.9L451.3 278.7L450.7 278.2Z"/>
<path fill="#000" transform="translate(22.0 191.6) rotate(-90)" d="M94.2 7.3L93.7 7.1L93.3 7.2L92.7 7.7L89.9 14.6L89.6 14.2L86.9 7.6L86.7 7.3L86.2 7.1L85.8 7.2L85.3 7.6L85.1 7.9L85.2 8.7L88.8 17.3L87.9 19.2L86.7 20.4L85.9 20.8L85.1 20.9L84.7 21.2L84.5 21.7L84.5 22.1L84.6 22.4L84.9 22.7L85.4 22.9L86.4 22.9L87.9 22.1L89.5 20.4L90.9 17.6L94.5 8.7L94.6 7.9ZM57.7 7.7L57.6 8.1L57.6 17.4L57.7 17.9L58.0 18.2L58.3 18.3L58.9 18.3L59.4 17.8L59.6 17.4L59.6 11.2L61.0 9.7L61.9 9.2L63.4 9.2L63.9 9.5L64.1 9.8L64.5 10.9L64.5 17.5L64.6 17.8L64.9 18.2L65.2 18.3L65.9 18.3L66.4 17.6L66.4 11.3L68.0 9.6L68.8 9.2L70.3 9.2L70.9 9.6L71.4 11.1L71.4 17.6L71.7 18.1L72.1 18.3L72.6 18.3L73.2 17.8L73.3 17.5L73.3 10.6L72.7 8.5L72.2 7.9L70.5 7.1L68.5 7.1L66.8 7.9L65.9 8.8L65.4 8.0L63.6 7.1L61.3 7.2L60.0 7.9L59.6 8.2L59.4 7.7L58.9 7.2L58.2 7.2ZM28.0 7.3L27.6 7.9L27.6 8.5L27.8 8.9L30.7 12.8L27.7 16.7L27.6 17.0L27.6 17.6L27.8 18.0L28.3 18.3L28.8 18.3L29.3 18.0L32.0 14.5L34.9 18.2L35.1 18.3L35.7 18.3L36.0 18.2L36.2 17.9L36.4 17.4L36.2 16.7L33.2 12.8L36.2 8.8L36.4 8.2L36.3 7.7L35.8 7.2L35.4 7.1L34.9 7.3L34.6 7.5L32.0 11.1L29.1 7.3L28.6 7.1ZM16.7 7.3L16.3 7.9L16.3 15.0L17.0 17.2L17.4 17.6L18.9 18.3L21.3 18.3L23.1 17.3L23.3 17.9L23.6 18.2L23.9 18.3L24.4 18.3L24.7 18.2L25.0 17.8L25.2 17.4L25.2 8.0L25.0 7.7L24.6 7.3L24.1 7.1L23.7 7.3L23.2 7.8L23.1 14.3L21.6 15.9L20.8 16.3L19.4 16.3L18.6 15.8L18.2 14.5L18.2 7.9L18.1 7.6L17.6 7.2L17.2 7.1ZM82.5 2.6L82.2 2.6L81.7 2.8L81.3 3.5L81.3 14.0L80.9 15.4L80.5 15.8L79.6 16.3L78.7 16.2L78.0 15.9L77.5 15.3L77.1 14.0L77.0 12.4L76.6 11.9L76.4 11.7L75.8 11.7L75.2 12.2L75.1 12.6L75.1 14.2L75.9 16.6L76.8 17.6L78.3 18.3L80.1 18.3L81.6 17.6L82.6 16.6L83.3 14.5L83.4 3.6L83.2 3.1L82.8 2.7ZM12.1 2.6L11.7 2.8L11.3 3.4L11.3 17.5L11.4 17.8L11.7 18.2L12.0 18.3L12.5 18.3L13.0 18.0L13.3 17.3L13.3 3.7L13.1 3.1L12.8 2.7ZM9.6 2.7L9.3 2.6L0.8 2.6L0.4 2.8L0.1 3.2L0.0 17.4L0.1 17.8L0.5 18.2L0.7 18.3L1.4 18.3L1.8 17.9L2.0 17.4L2.0 11.3L6.1 11.2L6.6 11.0L7.0 10.4L7.0 9.8L6.8 9.6L6.5 9.2L6.2 9.1L2.0 9.0L2.0 4.7L9.5 4.6L9.7 4.5L10.1 3.9L10.1 3.3ZM96.5 0.0L95.9 0.5L95.7 0.8L95.8 1.4L96.2 1.9L96.5 2.0L100.1 2.1L100.1 20.8L96.5 20.8L96.2 21.0L95.9 21.3L95.7 22.1L95.9 22.4L96.3 22.8L96.7 22.9L101.2 22.9L101.6 22.8L102.0 22.4L102.1 22.1L102.1 0.9L102.0 0.5L101.4 0.0ZM49.5 0.0L49.3 0.1L48.8 0.7L48.8 22.1L49.2 22.7L49.7 22.9L54.5 22.9L55.0 22.5L55.2 21.9L55.1 21.5L54.8 21.0L54.4 20.8L50.8 20.8L50.8 2.2L50.9 2.0L54.4 2.0L55.0 1.6L55.2 0.9L55.0 0.4L54.4 0.0Z"/>
<rect x="88" y="335" width="689" height="199" fill="#000"/>
<rect x="207" y="336" width="51" height="4" fill="#222222"/><rect x="224" y="340" width="34" height="5" fill="#222222"/><rect x="572" y="340" width="18" height="5" fill="#222222"/><rect x="198" y="345" width="18" height="4" fill="#222222"/><rect x="216" y="345" width="34" height="4" fill="#333333"/><rect x="250" y="345" width="16" height="4" fill="#222222"/><rect x="564" y="345" width="8" height="4" fill="#222222"/><rect x="572" y="345" width="9" height="4" fill="#333333"/><rect x="581" y="345" width="17" height="4" fill="#222222"/><rect x="207" y="349" width="9" height="5" fill="#222222"/><rect x="216" y="349" width="8" height="5" fill="#333333"/><rect x="224" y="349" width="17" height="5" fill="#444444"/><rect x="241" y="349" width="9" height="5" fill="#333333"/><rect x="250" y="349" width="16" height="5" fill="#222222"/><rect x="564" y="349" width="42" height="5" fill="#222222"/><rect x="216" y="354" width="8" height="4" fill="#222222"/><rect x="224" y="354" width="26" height="4" fill="#333333"/><rect x="250" y="354" width="8" height="4" fill="#222222"/><rect x="581" y="354" width="9" height="4" fill="#222222"/><rect x="224" y="358" width="17" height="4" fill="#222222"/><rect x="377" y="358" width="9" height="4" fill="#888888"/><rect x="377" y="362" width="9" height="5" fill="#777777"/><rect x="309" y="371" width="9" height="5" fill="#222222"/><rect x="156" y="376" width="34" height="4" fill="#222222"/><rect x="198" y="376" width="18" height="4" fill="#222222"/><rect x="292" y="376" width="34" height="4" fill="#222222"/><rect x="624" y="376" width="8" height="4" fill="#222222"/><rect x="156" y="380" width="68" height="4" fill="#222222"/><rect x="284" y="380" width="8" height="4" fill="#222222"/><rect x="292" y="380" width="26" height="4" fill="#333333"/><rect x="318" y="380" width="16" height="4" fill="#222222"/><rect x="624" y="380" width="8" height="4" fill="#222222"/><rect x="139" y="384" width="43" height="5" fill="#222222"/><rect x="182" y="384" width="34" height="5" fill="#333333"/><rect x="216" y="384" width="25" height="5" fill="#222222"/><rect x="284" y="384" width="8" height="5" fill="#222222"/><rect x="292" y="384" width="8" height="5" fill="#333333"/><rect x="300" y="384" width="9" height="5" fill="#444444"/><rect x="309" y="384" width="9" height="5" fill="#333333"/><rect x="318" y="384" width="34" height="5" fill="#222222"/><rect x="139" y="389" width="17" height="4" fill="#222222"/><rect x="156" y="389" width="8" height="4" fill="#333333"/><rect x="164" y="389" width="26" height="4" fill="#222222"/><rect x="190" y="389" width="26" height="4" fill="#333333"/><rect x="216" y="389" width="34" height="4" fill="#222222"/><rect x="284" y="389" width="8" height="4" fill="#222222"/><rect x="292" y="389" width="26" height="4" fill="#333333"/><rect x="318" y="389" width="34" height="4" fill="#222222"/><rect x="139" y="393" width="9" height="5" fill="#222222"/><rect x="148" y="393" width="25" height="5" fill="#333333"/><rect x="173" y="393" width="9" height="5" fill="#222222"/><rect x="182" y="393" width="34" height="5" fill="#333333"/><rect x="216" y="393" width="34" height="5" fill="#222222"/><rect x="284" y="393" width="50" height="5" fill="#222222"/><rect x="139" y="398" width="17" height="4" fill="#222222"/><rect x="156" y="398" width="17" height="4" fill="#333333"/><rect x="173" y="398" width="25" height="4" fill="#222222"/><rect x="198" y="398" width="9" height="4" fill="#333333"/><rect x="207" y="398" width="51" height="4" fill="#222222"/><rect x="300" y="398" width="9" height="4" fill="#222222"/><rect x="581" y="398" width="17" height="4" fill="#222222"/><rect x="139" y="402" width="119" height="4" fill="#222222"/><rect x="556" y="402" width="50" height="4" fill="#222222"/><rect x="122" y="406" width="26" height="5" fill="#222222"/><rect x="148" y="406" width="8" height="5" fill="#333333"/><rect x="156" y="406" width="34" height="5" fill="#222222"/><rect x="190" y="406" width="26" height="5" fill="#333333"/><rect x="216" y="406" width="50" height="5" fill="#222222"/><rect x="284" y="406" width="8" height="5" fill="#222222"/><rect x="547" y="406" width="9" height="5" fill="#222222"/><rect x="556" y="406" width="50" height="5" fill="#333333"/><rect x="606" y="406" width="9" height="5" fill="#222222"/><rect x="96" y="411" width="34" height="4" fill="#222222"/><rect x="130" y="411" width="9" height="4" fill="#2d2d2d"/><rect x="139" y="411" width="34" height="4" fill="#323232"/><rect x="173" y="411" width="9" height="4" fill="#3c3c3c"/><rect x="182" y="411" width="8" height="4" fill="#414141"/><rect x="190" y="411" width="34" height="4" fill="#373737"/><rect x="224" y="411" width="26" height="4" fill="#2d2d2d"/><rect x="250" y="411" width="76" height="4" fill="#222222"/><rect x="538" y="411" width="9" height="4" fill="#222222"/><rect x="547" y="411" width="59" height="4" fill="#303030"/><rect x="606" y="411" width="18" height="4" fill="#222222"/><rect x="88" y="415" width="34" height="5" fill="#222222"/><rect x="122" y="415" width="8" height="5" fill="#323232"/><rect x="130" y="415" width="9" height="5" fill="#373737"/><rect x="139" y="415" width="9" height="5" fill="#414141"/><rect x="148" y="415" width="8" height="5" fill="#4b4b4b"/><rect x="156" y="415" width="8" height="5" fill="#505050"/><rect x="164" y="415" width="9" height="5" fill="#646464"/><rect x="173" y="415" width="9" height="5" fill="#787878"/><rect x="182" y="415" width="8" height="5" fill="#696969"/><rect x="190" y="415" width="8" height="5" fill="#5f5f5f"/><rect x="198" y="415" width="9" height="5" fill="#5a5a5a"/><rect x="207" y="415" width="9" height="5" fill="#555555"/><rect x="216" y="415" width="8" height="5" fill="#505050"/><rect x="224" y="415" width="8" height="5" fill="#4b4b4b"/><rect x="232" y="415" width="9" height="5" fill="#414141"/><rect x="241" y="415" width="17" height="5" fill="#373737"/><rect x="258" y="415" width="94" height="5" fill="#2d2d2d"/><rect x="352" y="415" width="102" height="5" fill="#222222"/><rect x="496" y="415" width="8" height="5" fill="#222222"/><rect x="522" y="415" width="25" height="5" fill="#222222"/><rect x="547" y="415" width="51" height="5" fill="#303030"/><rect x="598" y="415" width="34" height="5" fill="#222222"/><rect x="88" y="420" width="34" height="4" fill="#222222"/><rect x="122" y="420" width="8" height="4" fill="#373737"/><rect x="130" y="420" width="9" height="4" fill="#4b4b4b"/><rect x="139" y="420" width="9" height="4" fill="#555555"/><rect x="148" y="420" width="8" height="4" fill="#5f5f5f"/><rect x="156" y="420" width="8" height="4" fill="#696969"/><rect x="164" y="420" width="9" height="4" fill="#a0a0a0"/><rect x="173" y="420" width="9" height="4" fill="#c8c8c8"/><rect x="182" y="420" width="8" height="4" fill="#afafaf"/><rect x="190" y="420" width="8" height="4" fill="#828282"/><rect x="198" y="420" width="9" height="4" fill="#767676"/><rect x="207" y="420" width="9" height="4" fill="#737373"/><rect x="216" y="420" width="8" height="4" fill="#707070"/><rect x="224" y="420" width="8" height="4" fill="#646464"/><rect x="232" y="420" width="9" height="4" fill="#5f5f5f"/><rect x="241" y="420" width="9" height="4" fill="#5a5a5a"/><rect x="250" y="420" width="8" height="4" fill="#585858"/><rect x="258" y="420" width="42" height="4" fill="#555555"/><rect x="300" y="420" width="9" height="4" fill="#525252"/><rect x="309" y="420" width="25" height="4" fill="#505050"/><rect x="334" y="420" width="18" height="4" fill="#4e4e4e"/><rect x="352" y="420" width="8" height="4" fill="#4b4b4b"/><rect x="360" y="420" width="26" height="4" fill="#464646"/><rect x="386" y="420" width="34" height="4" fill="#414141"/><rect x="420" y="420" width="25" height="4" fill="#3a3a3a"/><rect x="445" y="420" width="17" height="4" fill="#383838"/><rect x="462" y="420" width="34" height="4" fill="#373737"/><rect x="496" y="420" width="26" height="4" fill="#2d2d2d"/><rect x="522" y="420" width="25" height="4" fill="#282828"/><rect x="547" y="420" width="9" height="4" fill="#323232"/><rect x="556" y="420" width="8" height="4" fill="#3c3c3c"/><rect x="564" y="420" width="17" height="4" fill="#2d2d2d"/><rect x="581" y="420" width="34" height="4" fill="#222222"/><rect x="615" y="420" width="9" height="4" fill="#141414"/><rect x="624" y="420" width="8" height="4" fill="#222222"/><rect x="88" y="424" width="17" height="4" fill="#222222"/><rect x="105" y="424" width="17" height="4" fill="#323232"/><rect x="122" y="424" width="8" height="4" fill="#414141"/><rect x="130" y="424" width="9" height="4" fill="#505050"/><rect x="139" y="424" width="9" height="4" fill="#5a5a5a"/><rect x="148" y="424" width="8" height="4" fill="#6e6e6e"/><rect x="156" y="424" width="8" height="4" fill="#969696"/><rect x="164" y="424" width="9" height="4" fill="#a0a0a0"/><rect x="173" y="424" width="9" height="4" fill="#b9b9b9"/><rect x="182" y="424" width="8" height="4" fill="#b4b4b4"/><rect x="190" y="424" width="8" height="4" fill="#a0a0a0"/><rect x="198" y="424" width="9" height="4" fill="#9b9b9b"/><rect x="207" y="424" width="9" height="4" fill="#919191"/><rect x="216" y="424" width="8" height="4" fill="#8c8c8c"/><rect x="224" y="424" width="8" height="4" fill="#7d7d7d"/><rect x="232" y="424" width="9" height="4" fill="#787878"/><rect x="241" y="424" width="17" height="4" fill="#737373"/><rect x="258" y="424" width="8" height="4" fill="#6e6e6e"/><rect x="266" y="424" width="9" height="4" fill="#6c6c6c"/><rect x="275" y="424" width="34" height="4" fill="#696969"/><rect x="309" y="424" width="9" height="4" fill="#666666"/><rect x="318" y="424" width="42" height="4" fill="#646464"/><rect x="360" y="424" width="17" height="4" fill="#5f5f5f"/><rect x="377" y="424" width="9" height="4" fill="#5c5c5c"/><rect x="386" y="424" width="16" height="4" fill="#585858"/><rect x="402" y="424" width="9" height="4" fill="#555555"/><rect x="411" y="424" width="34" height="4" fill="#505050"/><rect x="445" y="424" width="34" height="4" fill="#484848"/><rect x="479" y="424" width="17" height="4" fill="#444444"/><rect x="496" y="424" width="26" height="4" fill="#3e3e3e"/><rect x="522" y="424" width="25" height="4" fill="#323232"/><rect x="547" y="424" width="9" height="4" fill="#3c3c3c"/><rect x="556" y="424" width="25" height="4" fill="#323232"/><rect x="581" y="424" width="25" height="4" fill="#282828"/><rect x="606" y="424" width="26" height="4" fill="#222222"/><rect x="88" y="428" width="8" height="5" fill="#222222"/><rect x="96" y="428" width="26" height="5" fill="#323232"/><rect x="122" y="428" width="8" height="5" fill="#4b4b4b"/><rect x="130" y="428" width="9" height="5" fill="#5a5a5a"/><rect x="139" y="428" width="9" height="5" fill="#696969"/><rect x="148" y="428" width="8" height="5" fill="#8c8c8c"/><rect x="156" y="428" width="8" height="5" fill="#bebebe"/><rect x="164" y="428" width="9" height="5" fill="#cdcdcd"/><rect x="173" y="428" width="9" height="5" fill="#d2d2d2"/><rect x="182" y="428" width="8" height="5" fill="#cdcdcd"/><rect x="190" y="428" width="17" height="5" fill="#afafaf"/><rect x="207" y="428" width="9" height="5" fill="#a5a5a5"/><rect x="216" y="428" width="8" height="5" fill="#a0a0a0"/><rect x="224" y="428" width="8" height="5" fill="#969696"/><rect x="232" y="428" width="9" height="5" fill="#919191"/><rect x="241" y="428" width="9" height="5" fill="#8c8c8c"/><rect x="250" y="428" width="8" height="5" fill="#878787"/><rect x="258" y="428" width="8" height="5" fill="#828282"/><rect x="266" y="428" width="9" height="5" fill="#808080"/><rect x="275" y="428" width="9" height="5" fill="#7e7e7e"/><rect x="284" y="428" width="8" height="5" fill="#7d7d7d"/><rect x="292" y="428" width="8" height="5" fill="#7a7a7a"/><rect x="300" y="428" width="26" height="5" fill="#787878"/><rect x="326" y="428" width="17" height="5" fill="#7a7a7a"/><rect x="343" y="428" width="9" height="5" fill="#787878"/><rect x="352" y="428" width="8" height="5" fill="#767676"/><rect x="360" y="428" width="8" height="5" fill="#707070"/><rect x="368" y="428" width="18" height="5" fill="#737373"/><rect x="386" y="428" width="8" height="5" fill="#6c6c6c"/><rect x="394" y="428" width="8" height="5" fill="#696969"/><rect x="402" y="428" width="26" height="5" fill="#646464"/><rect x="428" y="428" width="17" height="5" fill="#5f5f5f"/><rect x="445" y="428" width="9" height="5" fill="#5a5a5a"/><rect x="454" y="428" width="25" height="5" fill="#555555"/><rect x="479" y="428" width="17" height="5" fill="#505050"/><rect x="496" y="428" width="34" height="5" fill="#4b4b4b"/><rect x="530" y="428" width="26" height="5" fill="#414141"/><rect x="556" y="428" width="8" height="5" fill="#444444"/><rect x="564" y="428" width="42" height="5" fill="#373737"/><rect x="606" y="428" width="9" height="5" fill="#282828"/><rect x="615" y="428" width="9" height="5" fill="#1e1e1e"/><rect x="624" y="428" width="8" height="5" fill="#222222"/><rect x="88" y="433" width="8" height="4" fill="#141414"/><rect x="96" y="433" width="9" height="4" fill="#323232"/><rect x="122" y="433" width="8" height="4" fill="#555555"/><rect x="130" y="433" width="9" height="4" fill="#5f5f5f"/><rect x="139" y="433" width="9" height="4" fill="#6e6e6e"/><rect x="148" y="433" width="8" height="4" fill="#969696"/><rect x="156" y="433" width="8" height="4" fill="#d7d7d7"/><rect x="164" y="433" width="9" height="4" fill="#ebebeb"/><rect x="173" y="433" width="9" height="4" fill="#e6e6e6"/><rect x="182" y="433" width="8" height="4" fill="#dcdcdc"/><rect x="190" y="433" width="8" height="4" fill="#bebebe"/><rect x="198" y="433" width="9" height="4" fill="#b9b9b9"/><rect x="207" y="433" width="9" height="4" fill="#afafaf"/><rect x="216" y="433" width="8" height="4" fill="#aaaaaa"/><rect x="224" y="433" width="8" height="4" fill="#a5a5a5"/><rect x="232" y="433" width="9" height="4" fill="#a0a0a0"/><rect x="241" y="433" width="17" height="4" fill="#969696"/><rect x="258" y="433" width="8" height="4" fill="#919191"/><rect x="266" y="433" width="9" height="4" fill="#8e8e8e"/><rect x="275" y="433" width="17" height="4" fill="#8c8c8c"/><rect x="292" y="433" width="8" height="4" fill="#8a8a8a"/><rect x="300" y="433" width="9" height="4" fill="#888888"/><rect x="309" y="433" width="34" height="4" fill="#878787"/><rect x="343" y="433" width="9" height="4" fill="#848484"/><rect x="352" y="433" width="8" height="4" fill="#828282"/><rect x="360" y="433" width="8" height="4" fill="#7d7d7d"/><rect x="368" y="433" width="9" height="4" fill="#7a7a7a"/><rect x="377" y="433" width="9" height="4" fill="#787878"/><rect x="386" y="433" width="8" height="4" fill="#767676"/><rect x="394" y="433" width="8" height="4" fill="#737373"/><rect x="402" y="433" width="9" height="4" fill="#707070"/><rect x="411" y="433" width="17" height="4" fill="#6c6c6c"/><rect x="428" y="433" width="17" height="4" fill="#696969"/><rect x="445" y="433" width="17" height="4" fill="#626262"/><rect x="462" y="433" width="17" height="4" fill="#5f5f5f"/><rect x="479" y="433" width="17" height="4" fill="#585858"/><rect x="496" y="433" width="34" height="4" fill="#555555"/><rect x="530" y="433" width="26" height="4" fill="#4b4b4b"/><rect x="556" y="433" width="8" height="4" fill="#464646"/><rect x="564" y="433" width="42" height="4" fill="#3e3e3e"/><rect x="606" y="433" width="9" height="4" fill="#323232"/><rect x="615" y="433" width="9" height="4" fill="#2d2d2d"/><rect x="624" y="433" width="8" height="4" fill="#373737"/><rect x="88" y="437" width="17" height="5" fill="#323232"/><rect x="122" y="437" width="8" height="5" fill="#5a5a5a"/><rect x="130" y="437" width="9" height="5" fill="#646464"/><rect x="139" y="437" width="9" height="5" fill="#878787"/><rect x="148" y="437" width="8" height="5" fill="#afafaf"/><rect x="156" y="437" width="8" height="5" fill="#f0f0f0"/><rect x="164" y="437" width="9" height="5" fill="#ffffff"/><rect x="173" y="437" width="9" height="5" fill="#fafafa"/><rect x="182" y="437" width="8" height="5" fill="#ebebeb"/><rect x="190" y="437" width="8" height="5" fill="#d2d2d2"/><rect x="198" y="437" width="9" height="5" fill="#c8c8c8"/><rect x="207" y="437" width="9" height="5" fill="#c3c3c3"/><rect x="216" y="437" width="8" height="5" fill="#bebebe"/><rect x="224" y="437" width="8" height="5" fill="#afafaf"/><rect x="232" y="437" width="9" height="5" fill="#aaaaaa"/><rect x="241" y="437" width="17" height="5" fill="#a0a0a0"/><rect x="258" y="437" width="8" height="5" fill="#9b9b9b"/><rect x="266" y="437" width="9" height="5" fill="#989898"/><rect x="275" y="437" width="17" height="5" fill="#969696"/><rect x="292" y="437" width="8" height="5" fill="#949494"/><rect x="300" y="437" width="9" height="5" fill="#929292"/><rect x="309" y="437" width="17" height="5" fill="#919191"/><rect x="326" y="437" width="8" height="5" fill="#8f8f8f"/><rect x="334" y="437" width="9" height="5" fill="#8e8e8e"/><rect x="343" y="437" width="17" height="5" fill="#8c8c8c"/><rect x="360" y="437" width="8" height="5" fill="#828282"/><rect x="368" y="437" width="9" height="5" fill="#808080"/><rect x="377" y="437" width="9" height="5" fill="#7e7e7e"/><rect x="386" y="437" width="8" height="5" fill="#7a7a7a"/><rect x="394" y="437" width="8" height="5" fill="#787878"/><rect x="402" y="437" width="9" height="5" fill="#767676"/><rect x="411" y="437" width="9" height="5" fill="#737373"/><rect x="420" y="437" width="16" height="5" fill="#707070"/><rect x="436" y="437" width="9" height="5" fill="#6c6c6c"/><rect x="445" y="437" width="17" height="5" fill="#666666"/><rect x="462" y="437" width="17" height="5" fill="#626262"/><rect x="479" y="437" width="17" height="5" fill="#5c5c5c"/><rect x="496" y="437" width="17" height="5" fill="#5a5a5a"/><rect x="513" y="437" width="25" height="5" fill="#555555"/><rect x="538" y="437" width="18" height="5" fill="#4e4e4e"/><rect x="556" y="437" width="25" height="5" fill="#444444"/><rect x="581" y="437" width="34" height="5" fill="#373737"/><rect x="615" y="437" width="9" height="5" fill="#262626"/><rect x="624" y="437" width="8" height="5" fill="#373737"/><rect x="88" y="442" width="17" height="4" fill="#222222"/><rect x="105" y="442" width="17" height="4" fill="#323232"/><rect x="130" y="442" width="9" height="4" fill="#464646"/><rect x="139" y="442" width="9" height="4" fill="#828282"/><rect x="148" y="442" width="8" height="4" fill="#aaaaaa"/><rect x="156" y="442" width="8" height="4" fill="#dcdcdc"/><rect x="164" y="442" width="18" height="4" fill="#f5f5f5"/><rect x="182" y="442" width="8" height="4" fill="#e1e1e1"/><rect x="190" y="442" width="8" height="4" fill="#c8c8c8"/><rect x="198" y="442" width="9" height="4" fill="#c3c3c3"/><rect x="207" y="442" width="9" height="4" fill="#bebebe"/><rect x="216" y="442" width="8" height="4" fill="#b4b4b4"/><rect x="224" y="442" width="8" height="4" fill="#a5a5a5"/><rect x="232" y="442" width="9" height="4" fill="#a0a0a0"/><rect x="241" y="442" width="9" height="4" fill="#969696"/><rect x="250" y="442" width="8" height="4" fill="#919191"/><rect x="258" y="442" width="8" height="4" fill="#8e8e8e"/><rect x="266" y="442" width="9" height="4" fill="#8c8c8c"/><rect x="275" y="442" width="9" height="4" fill="#8a8a8a"/><rect x="284" y="442" width="8" height="4" fill="#888888"/><rect x="292" y="442" width="8" height="4" fill="#878787"/><rect x="300" y="442" width="9" height="4" fill="#858585"/><rect x="309" y="442" width="17" height="4" fill="#828282"/><rect x="326" y="442" width="8" height="4" fill="#808080"/><rect x="334" y="442" width="9" height="4" fill="#7e7e7e"/><rect x="343" y="442" width="17" height="4" fill="#7d7d7d"/><rect x="360" y="442" width="8" height="4" fill="#767676"/><rect x="368" y="442" width="9" height="4" fill="#737373"/><rect x="377" y="442" width="9" height="4" fill="#707070"/><rect x="386" y="442" width="8" height="4" fill="#6e6e6e"/><rect x="394" y="442" width="8" height="4" fill="#6c6c6c"/><rect x="402" y="442" width="18" height="4" fill="#666666"/><rect x="420" y="442" width="16" height="4" fill="#626262"/><rect x="436" y="442" width="9" height="4" fill="#5f5f5f"/><rect x="445" y="442" width="17" height="4" fill="#5a5a5a"/><rect x="462" y="442" width="17" height="4" fill="#555555"/><rect x="479" y="442" width="17" height="4" fill="#505050"/><rect x="496" y="442" width="17" height="4" fill="#4b4b4b"/><rect x="513" y="442" width="25" height="4" fill="#444444"/><rect x="538" y="442" width="18" height="4" fill="#3c3c3c"/><rect x="556" y="442" width="42" height="4" fill="#323232"/><rect x="598" y="442" width="17" height="4" fill="#262626"/><rect x="615" y="442" width="17" height="4" fill="#222222"/><rect x="88" y="446" width="34" height="4" fill="#222222"/><rect x="130" y="446" width="9" height="4" fill="#414141"/><rect x="139" y="446" width="9" height="4" fill="#696969"/><rect x="148" y="446" width="8" height="4" fill="#969696"/><rect x="156" y="446" width="8" height="4" fill="#b9b9b9"/><rect x="164" y="446" width="9" height="4" fill="#c8c8c8"/><rect x="173" y="446" width="9" height="4" fill="#cdcdcd"/><rect x="182" y="446" width="8" height="4" fill="#c8c8c8"/><rect x="190" y="446" width="8" height="4" fill="#afafaf"/><rect x="198" y="446" width="9" height="4" fill="#b4b4b4"/><rect x="207" y="446" width="9" height="4" fill="#a5a5a5"/><rect x="216" y="446" width="8" height="4" fill="#a0a0a0"/><rect x="224" y="446" width="8" height="4" fill="#8c8c8c"/><rect x="232" y="446" width="9" height="4" fill="#828282"/><rect x="241" y="446" width="17" height="4" fill="#787878"/><rect x="258" y="446" width="8" height="4" fill="#707070"/><rect x="266" y="446" width="34" height="4" fill="#6e6e6e"/><rect x="300" y="446" width="9" height="4" fill="#6c6c6c"/><rect x="309" y="446" width="17" height="4" fill="#626262"/><rect x="326" y="446" width="8" height="4" fill="#606060"/><rect x="334" y="446" width="9" height="4" fill="#666666"/><rect x="343" y="446" width="17" height="4" fill="#686868"/><rect x="360" y="446" width="8" height="4" fill="#5f5f5f"/><rect x="368" y="446" width="9" height="4" fill="#5d5d5d"/><rect x="377" y="446" width="9" height="4" fill="#5a5a5a"/><rect x="386" y="446" width="16" height="4" fill="#585858"/><rect x="402" y="446" width="18" height="4" fill="#525252"/><rect x="420" y="446" width="25" height="4" fill="#4e4e4e"/><rect x="445" y="446" width="17" height="4" fill="#484848"/><rect x="462" y="446" width="17" height="4" fill="#444444"/><rect x="479" y="446" width="17" height="4" fill="#414141"/><rect x="496" y="446" width="26" height="4" fill="#373737"/><rect x="522" y="446" width="25" height="4" fill="#2d2d2d"/><rect x="547" y="446" width="68" height="4" fill="#222222"/><rect x="88" y="450" width="34" height="5" fill="#222222"/><rect x="130" y="450" width="9" height="5" fill="#373737"/><rect x="139" y="450" width="9" height="5" fill="#5f5f5f"/><rect x="148" y="450" width="8" height="5" fill="#828282"/><rect x="156" y="450" width="8" height="5" fill="#969696"/><rect x="164" y="450" width="9" height="5" fill="#a0a0a0"/><rect x="173" y="450" width="9" height="5" fill="#a5a5a5"/><rect x="182" y="450" width="8" height="5" fill="#9b9b9b"/><rect x="190" y="450" width="17" height="5" fill="#8c8c8c"/><rect x="207" y="450" width="9" height="5" fill="#828282"/><rect x="216" y="450" width="8" height="5" fill="#7d7d7d"/><rect x="224" y="450" width="8" height="5" fill="#5a5a5a"/><rect x="232" y="450" width="9" height="5" fill="#555555"/><rect x="250" y="450" width="8" height="5" fill="#4b4b4b"/><rect x="258" y="450" width="42" height="5" fill="#464646"/><rect x="300" y="450" width="9" height="5" fill="#444444"/><rect x="309" y="450" width="17" height="5" fill="#3e3e3e"/><rect x="326" y="450" width="8" height="5" fill="#3c3c3c"/><rect x="334" y="450" width="9" height="5" fill="#3e3e3e"/><rect x="343" y="450" width="9" height="5" fill="#404040"/><rect x="352" y="450" width="8" height="5" fill="#424242"/><rect x="360" y="450" width="26" height="5" fill="#3c3c3c"/><rect x="386" y="450" width="34" height="5" fill="#343434"/><rect x="420" y="450" width="76" height="5" fill="#2a2a2a"/><rect x="496" y="450" width="60" height="5" fill="#222222"/><rect x="96" y="455" width="34" height="4" fill="#222222"/><rect x="130" y="455" width="9" height="4" fill="#373737"/><rect x="139" y="455" width="9" height="4" fill="#505050"/><rect x="148" y="455" width="8" height="4" fill="#646464"/><rect x="156" y="455" width="8" height="4" fill="#6e6e6e"/><rect x="164" y="455" width="9" height="4" fill="#737373"/><rect x="173" y="455" width="9" height="4" fill="#787878"/><rect x="182" y="455" width="8" height="4" fill="#6e6e6e"/><rect x="190" y="455" width="17" height="4" fill="#646464"/><rect x="207" y="455" width="9" height="4" fill="#5a5a5a"/><rect x="216" y="455" width="8" height="4" fill="#555555"/><rect x="232" y="455" width="9" height="4" fill="#323232"/><rect x="250" y="455" width="8" height="4" fill="#323232"/><rect x="258" y="455" width="51" height="4" fill="#2d2d2d"/><rect x="309" y="455" width="9" height="4" fill="#222222"/><rect x="318" y="455" width="8" height="4" fill="#2d2d2d"/><rect x="326" y="455" width="17" height="4" fill="#222222"/><rect x="343" y="455" width="9" height="4" fill="#2d2d2d"/><rect x="352" y="455" width="8" height="4" fill="#373737"/><rect x="360" y="455" width="68" height="4" fill="#222222"/><rect x="436" y="455" width="9" height="4" fill="#222222"/><rect x="114" y="459" width="16" height="5" fill="#222222"/><rect x="130" y="459" width="9" height="5" fill="#333333"/><rect x="139" y="459" width="9" height="5" fill="#444444"/><rect x="148" y="459" width="8" height="5" fill="#555555"/><rect x="156" y="459" width="34" height="5" fill="#666666"/><rect x="190" y="459" width="26" height="5" fill="#555555"/><rect x="216" y="459" width="8" height="5" fill="#444444"/><rect x="224" y="459" width="8" height="5" fill="#111111"/><rect x="232" y="459" width="9" height="5" fill="#333333"/><rect x="241" y="459" width="9" height="5" fill="#222222"/><rect x="250" y="459" width="8" height="5" fill="#333333"/><rect x="258" y="459" width="68" height="5" fill="#222222"/><rect x="334" y="459" width="18" height="5" fill="#222222"/><rect x="352" y="459" width="8" height="5" fill="#333333"/><rect x="114" y="464" width="16" height="4" fill="#222222"/><rect x="130" y="464" width="18" height="4" fill="#333333"/><rect x="148" y="464" width="8" height="4" fill="#444444"/><rect x="156" y="464" width="8" height="4" fill="#333333"/><rect x="164" y="464" width="52" height="4" fill="#444444"/><rect x="216" y="464" width="25" height="4" fill="#333333"/><rect x="250" y="464" width="8" height="4" fill="#333333"/><rect x="266" y="464" width="34" height="4" fill="#222222"/><rect x="318" y="464" width="8" height="4" fill="#222222"/><rect x="130" y="468" width="43" height="4" fill="#222222"/><rect x="173" y="468" width="9" height="4" fill="#333333"/><rect x="182" y="468" width="8" height="4" fill="#222222"/><rect x="190" y="468" width="26" height="4" fill="#333333"/><rect x="216" y="468" width="16" height="4" fill="#222222"/><rect x="232" y="468" width="9" height="4" fill="#333333"/><rect x="250" y="468" width="8" height="4" fill="#333333"/><rect x="266" y="468" width="18" height="4" fill="#222222"/><rect x="130" y="472" width="94" height="5" fill="#222222"/><rect x="232" y="472" width="9" height="5" fill="#222222"/><rect x="250" y="472" width="8" height="5" fill="#333333"/><rect x="258" y="472" width="34" height="5" fill="#222222"/><rect x="148" y="477" width="8" height="4" fill="#222222"/><rect x="232" y="477" width="9" height="4" fill="#222222"/><rect x="250" y="477" width="8" height="4" fill="#333333"/><rect x="266" y="477" width="26" height="4" fill="#222222"/><rect x="232" y="481" width="9" height="5" fill="#222222"/><rect x="250" y="481" width="8" height="5" fill="#333333"/><rect x="266" y="481" width="9" height="5" fill="#222222"/><rect x="284" y="481" width="8" height="5" fill="#222222"/><rect x="368" y="481" width="9" height="5" fill="#222222"/><rect x="606" y="481" width="26" height="5" fill="#262626"/><rect x="250" y="486" width="8" height="4" fill="#222222"/><rect x="368" y="486" width="18" height="4" fill="#222222"/><rect x="402" y="486" width="18" height="4" fill="#222222"/><rect x="598" y="486" width="8" height="4" fill="#222222"/><rect x="606" y="486" width="9" height="4" fill="#373737"/><rect x="615" y="486" width="9" height="4" fill="#3a3a3a"/><rect x="624" y="486" width="8" height="4" fill="#4b4b4b"/><rect x="377" y="490" width="17" height="4" fill="#222222"/><rect x="394" y="490" width="8" height="4" fill="#373737"/><rect x="402" y="490" width="9" height="4" fill="#414141"/><rect x="411" y="490" width="9" height="4" fill="#323232"/><rect x="420" y="490" width="34" height="4" fill="#222222"/><rect x="572" y="490" width="26" height="4" fill="#222222"/><rect x="598" y="490" width="8" height="4" fill="#323232"/><rect x="606" y="490" width="9" height="4" fill="#5a5a5a"/><rect x="615" y="490" width="9" height="4" fill="#555555"/><rect x="624" y="490" width="8" height="4" fill="#696969"/><rect x="377" y="494" width="9" height="5" fill="#222222"/><rect x="386" y="494" width="8" height="5" fill="#323232"/><rect x="394" y="494" width="17" height="5" fill="#555555"/><rect x="411" y="494" width="9" height="5" fill="#4b4b4b"/><rect x="420" y="494" width="8" height="5" fill="#414141"/><rect x="428" y="494" width="8" height="5" fill="#373737"/><rect x="436" y="494" width="18" height="5" fill="#262626"/><rect x="454" y="494" width="16" height="5" fill="#222222"/><rect x="556" y="494" width="34" height="5" fill="#222222"/><rect x="590" y="494" width="8" height="5" fill="#323232"/><rect x="598" y="494" width="8" height="5" fill="#5a5a5a"/><rect x="606" y="494" width="9" height="5" fill="#828282"/><rect x="615" y="494" width="17" height="5" fill="#7d7d7d"/><rect x="266" y="499" width="9" height="4" fill="#222222"/><rect x="377" y="499" width="9" height="4" fill="#323232"/><rect x="386" y="499" width="8" height="4" fill="#505050"/><rect x="394" y="499" width="8" height="4" fill="#646464"/><rect x="402" y="499" width="9" height="4" fill="#626262"/><rect x="411" y="499" width="9" height="4" fill="#555555"/><rect x="420" y="499" width="8" height="4" fill="#464646"/><rect x="428" y="499" width="8" height="4" fill="#3c3c3c"/><rect x="436" y="499" width="18" height="4" fill="#303030"/><rect x="454" y="499" width="50" height="4" fill="#222222"/><rect x="513" y="499" width="9" height="4" fill="#222222"/><rect x="530" y="499" width="17" height="4" fill="#222222"/><rect x="556" y="499" width="16" height="4" fill="#222222"/><rect x="572" y="499" width="18" height="4" fill="#323232"/><rect x="590" y="499" width="8" height="4" fill="#373737"/><rect x="598" y="499" width="8" height="4" fill="#646464"/><rect x="606" y="499" width="18" height="4" fill="#969696"/><rect x="624" y="499" width="8" height="4" fill="#878787"/><rect x="114" y="503" width="25" height="5" fill="#222222"/><rect x="164" y="503" width="9" height="5" fill="#222222"/><rect x="258" y="503" width="17" height="5" fill="#222222"/><rect x="284" y="503" width="8" height="5" fill="#222222"/><rect x="300" y="503" width="9" height="5" fill="#222222"/><rect x="368" y="503" width="9" height="5" fill="#222222"/><rect x="377" y="503" width="9" height="5" fill="#414141"/><rect x="386" y="503" width="8" height="5" fill="#696969"/><rect x="394" y="503" width="8" height="5" fill="#787878"/><rect x="402" y="503" width="9" height="5" fill="#6e6e6e"/><rect x="411" y="503" width="9" height="5" fill="#5c5c5c"/><rect x="420" y="503" width="8" height="5" fill="#4e4e4e"/><rect x="428" y="503" width="8" height="5" fill="#414141"/><rect x="436" y="503" width="9" height="5" fill="#3a3a3a"/><rect x="445" y="503" width="9" height="5" fill="#343434"/><rect x="454" y="503" width="25" height="5" fill="#323232"/><rect x="479" y="503" width="93" height="5" fill="#222222"/><rect x="572" y="503" width="18" height="5" fill="#323232"/><rect x="590" y="503" width="8" height="5" fill="#444444"/><rect x="598" y="503" width="8" height="5" fill="#696969"/><rect x="606" y="503" width="9" height="5" fill="#969696"/><rect x="615" y="503" width="9" height="5" fill="#a0a0a0"/><rect x="624" y="503" width="8" height="5" fill="#878787"/><rect x="122" y="508" width="8" height="4" fill="#222222"/><rect x="156" y="508" width="17" height="4" fill="#222222"/><rect x="198" y="508" width="9" height="4" fill="#222222"/><rect x="224" y="508" width="8" height="4" fill="#222222"/><rect x="250" y="508" width="25" height="4" fill="#222222"/><rect x="275" y="508" width="17" height="4" fill="#333333"/><rect x="292" y="508" width="17" height="4" fill="#222222"/><rect x="318" y="508" width="8" height="4" fill="#222222"/><rect x="343" y="508" width="9" height="4" fill="#222222"/><rect x="360" y="508" width="17" height="4" fill="#222222"/><rect x="377" y="508" width="9" height="4" fill="#464646"/><rect x="386" y="508" width="8" height="4" fill="#737373"/><rect x="394" y="508" width="8" height="4" fill="#808080"/><rect x="402" y="508" width="9" height="4" fill="#767676"/><rect x="411" y="508" width="9" height="4" fill="#626262"/><rect x="420" y="508" width="8" height="4" fill="#525252"/><rect x="428" y="508" width="8" height="4" fill="#464646"/><rect x="436" y="508" width="9" height="4" fill="#3e3e3e"/><rect x="445" y="508" width="9" height="4" fill="#343434"/><rect x="454" y="508" width="8" height="4" fill="#373737"/><rect x="462" y="508" width="17" height="4" fill="#303030"/><rect x="479" y="508" width="102" height="4" fill="#222222"/><rect x="581" y="508" width="9" height="4" fill="#323232"/><rect x="590" y="508" width="8" height="4" fill="#373737"/><rect x="598" y="508" width="8" height="4" fill="#5a5a5a"/><rect x="606" y="508" width="9" height="4" fill="#7d7d7d"/><rect x="615" y="508" width="9" height="4" fill="#919191"/><rect x="624" y="508" width="8" height="4" fill="#787878"/><rect x="148" y="512" width="25" height="4" fill="#222222"/><rect x="198" y="512" width="34" height="4" fill="#222222"/><rect x="250" y="512" width="16" height="4" fill="#222222"/><rect x="266" y="512" width="43" height="4" fill="#333333"/><rect x="318" y="512" width="16" height="4" fill="#222222"/><rect x="368" y="512" width="9" height="4" fill="#222222"/><rect x="377" y="512" width="9" height="4" fill="#3e3e3e"/><rect x="386" y="512" width="8" height="4" fill="#646464"/><rect x="394" y="512" width="8" height="4" fill="#737373"/><rect x="402" y="512" width="9" height="4" fill="#6c6c6c"/><rect x="411" y="512" width="9" height="4" fill="#5a5a5a"/><rect x="420" y="512" width="8" height="4" fill="#4b4b4b"/><rect x="428" y="512" width="8" height="4" fill="#414141"/><rect x="436" y="512" width="9" height="4" fill="#373737"/><rect x="445" y="512" width="9" height="4" fill="#2d2d2d"/><rect x="454" y="512" width="16" height="4" fill="#282828"/><rect x="470" y="512" width="60" height="4" fill="#222222"/><rect x="538" y="512" width="52" height="4" fill="#222222"/><rect x="590" y="512" width="8" height="4" fill="#282828"/><rect x="598" y="512" width="8" height="4" fill="#373737"/><rect x="606" y="512" width="9" height="4" fill="#5a5a5a"/><rect x="615" y="512" width="9" height="4" fill="#5f5f5f"/><rect x="624" y="512" width="8" height="4" fill="#555555"/><rect x="148" y="516" width="8" height="5" fill="#222222"/><rect x="156" y="516" width="8" height="5" fill="#333333"/><rect x="164" y="516" width="77" height="5" fill="#222222"/><rect x="258" y="516" width="8" height="5" fill="#222222"/><rect x="266" y="516" width="43" height="5" fill="#333333"/><rect x="318" y="516" width="16" height="5" fill="#222222"/><rect x="368" y="516" width="9" height="5" fill="#222222"/><rect x="377" y="516" width="9" height="5" fill="#2d2d2d"/><rect x="386" y="516" width="8" height="5" fill="#464646"/><rect x="394" y="516" width="8" height="5" fill="#555555"/><rect x="402" y="516" width="9" height="5" fill="#505050"/><rect x="411" y="516" width="9" height="5" fill="#444444"/><rect x="420" y="516" width="8" height="5" fill="#3c3c3c"/><rect x="428" y="516" width="8" height="5" fill="#323232"/><rect x="436" y="516" width="18" height="5" fill="#282828"/><rect x="454" y="516" width="16" height="5" fill="#222222"/><rect x="590" y="516" width="42" height="5" fill="#222222"/><rect x="148" y="521" width="8" height="4" fill="#222222"/><rect x="156" y="521" width="17" height="4" fill="#333333"/><rect x="173" y="521" width="102" height="4" fill="#222222"/><rect x="275" y="521" width="9" height="4" fill="#333333"/><rect x="284" y="521" width="50" height="4" fill="#222222"/><rect x="377" y="521" width="77" height="4" fill="#222222"/><rect x="88" y="525" width="17" height="5" fill="#222222"/><rect x="114" y="525" width="204" height="5" fill="#222222"/><rect x="420" y="525" width="8" height="5" fill="#222222"/><rect x="88" y="530" width="8" height="4" fill="#333333"/><rect x="173" y="530" width="85" height="4" fill="#222222"/><rect x="275" y="530" width="43" height="4" fill="#222222"/>
<rect x="88" y="422" width="688" height="1" fill="#f01414"/>
<rect x="88" y="451" width="688" height="1" fill="#f01414"/>
<polygon points="475.5,428.9 477.2,434.2 482.7,434.2 478.3,437.4 480.0,442.6 475.5,439.4 471.0,442.6 472.7,437.4 468.3,434.2 473.8,434.2" fill="none" stroke="#1e90ff" stroke-width="1" shape-rendering="auto"/>
<polygon points="567.5,401.4 569.2,406.7 574.7,406.7 570.3,409.9 572.0,415.1 567.5,411.9 563.0,415.1 564.7,409.9 560.3,406.7 565.8,406.7" fill="none" stroke="#1e90ff" stroke-width="1" shape-rendering="auto"/>
<g fill="#ce2029"><rect x="95" y="337" width="3" height="3"/><rect x="95" y="528" width="3" height="4"/><rect x="104" y="337" width="3" height="3"/><rect x="104" y="528" width="3" height="4"/><rect x="112" y="337" width="3" height="3"/><rect x="112" y="528" width="3" height="4"/><rect x="121" y="337" width="3" height="3"/><rect x="121" y="528" width="3" height="4"/><rect x="129" y="337" width="3" height="3"/><rect x="129" y="528" width="3" height="4"/><rect x="138" y="337" width="3" height="3"/><rect x="138" y="528" width="3" height="4"/><rect x="146" y="337" width="3" height="3"/><rect x="146" y="528" width="3" height="4"/><rect x="155" y="337" width="3" height="3"/><rect x="155" y="528" width="3" height="4"/><rect x="163" y="337" width="3" height="3"/><rect x="163" y="528" width="3" height="4"/><rect x="172" y="337" width="3" height="8"/><rect x="172" y="523" width="3" height="9"/><rect x="180" y="337" width="3" height="3"/><rect x="180" y="528" width="3" height="4"/><rect x="189" y="337" width="3" height="3"/><rect x="189" y="528" width="3" height="4"/><rect x="197" y="337" width="3" height="3"/><rect x="197" y="528" width="3" height="4"/><rect x="206" y="337" width="3" height="3"/><rect x="206" y="528" width="3" height="4"/><rect x="214" y="337" width="3" height="3"/><rect x="214" y="528" width="3" height="4"/><rect x="223" y="337" width="3" height="3"/><rect x="223" y="528" width="3" height="4"/><rect x="231" y="337" width="3" height="3"/><rect x="231" y="528" width="3" height="4"/><rect x="240" y="337" width="3" height="3"/><rect x="240" y="528" width="3" height="4"/><rect x="248" y="337" width="3" height="3"/><rect x="248" y="528" width="3" height="4"/><rect x="257" y="337" width="3" height="8"/><rect x="257" y="523" width="3" height="9"/><rect x="265" y="337" width="3" height="3"/><rect x="265" y="528" width="3" height="4"/><rect x="274" y="337" width="3" height="3"/><rect x="274" y="528" width="3" height="4"/><rect x="282" y="337" width="3" height="3"/><rect x="282" y="528" width="3" height="4"/><rect x="291" y="337" width="3" height="3"/><rect x="291" y="528" width="3" height="4"/><rect x="299" y="337" width="3" height="3"/><rect x="299" y="528" width="3" height="4"/><rect x="308" y="337" width="3" height="3"/><rect x="308" y="528" width="3" height="4"/><rect x="316" y="337" width="3" height="3"/><rect x="316" y="528" width="3" height="4"/><rect x="325" y="337" width="3" height="3"/><rect x="325" y="528" width="3" height="4"/><rect x="333" y="337" width="3" height="3"/><rect x="333" y="528" width="3" height="4"/><rect x="342" y="337" width="3" height="8"/><rect x="342" y="523" width="3" height="9"/><rect x="350" y="337" width="3" height="3"/><rect x="350" y="528" width="3" height="4"/><rect x="359" y="337" width="3" height="3"/><rect x="359" y="528" width="3" height="4"/><rect x="367" y="337" width="3" height="3"/><rect x="367" y="528" width="3" height="4"/><rect x="376" y="337" width="3" height="3"/><rect x="376" y="528" width="3" height="4"/><rect x="384" y="337" width="3" height="3"/><rect x="384" y="528" width="3" height="4"/><rect x="393" y="337" width="3" height="3"/><rect x="393" y="528" width="3" height="4"/><rect x="401" y="337" width="3" height="3"/><rect x="401" y="528" width="3" height="4"/><rect x="410" y="337" width="3" height="3"/><rect x="410" y="528" width="3" height="4"/><rect x="418" y="337" width="3" height="3"/><rect x="418" y="528" width="3" height="4"/><rect x="427" y="337" width="3" height="8"/><rect x="427" y="523" width="3" height="9"/><rect x="435" y="337" width="3" height="3"/><rect x="435" y="528" width="3" height="4"/><rect x="444" y="337" width="3" height="3"/><rect x="444" y="528" width="3" height="4"/><rect x="452" y="337" width="3" height="3"/><rect x="452" y="528" width="3" height="4"/><rect x="461" y="337" width="3" height="3"/><rect x="461" y="528" width="3" height="4"/><rect x="469" y="337" width="3" height="3"/><rect x="469" y="528" width="3" height="4"/><rect x="478" y="337" width="3" height="3"/><rect x="478" y="528" width="3" height="4"/><rect x="486" y="337" width="3" height="3"/><rect x="486" y="528" width="3" height="4"/><rect x="495" y="337" width="3" height="3"/><rect x="495" y="528" width="3" height="4"/><rect x="503" y="337" width="3" height="3"/><rect x="503" y="528" width="3" height="4"/><rect x="512" y="337" width="3" height="8"/><rect x="512" y="523" width="3" height="9"/><rect x="520" y="337" width="3" height="3"/><rect x="520" y="528" width="3" height="4"/><rect x="529" y="337" width="3" height="3"/><rect x="529" y="528" width="3" height="4"/><rect x="537" y="337" width="3" height="3"/><rect x="537" y="528" width="3" height="4"/><rect x="546" y="337" width="3" height="3"/><rect x="546" y="528" width="3" height="4"/><rect x="554" y="337" width="3" height="3"/><rect x="554" y="528" width="3" height="4"/><rect x="563" y="337" width="3" height="3"/><rect x="563" y="528" width="3" height="4"/><rect x="571" y="337" width="3" height="3"/><rect x="571" y="528" width="3" height="4"/><rect x="580" y="337" width="3" height="3"/><rect x="580" y="528" width="3" height="4"/><rect x="588" y="337" width="3" height="3"/><rect x="588" y="528" width="3" height="4"/><rect x="597" y="337" width="3" height="8"/><rect x="597" y="523" width="3" height="9"/><rect x="605" y="337" width="3" height="3"/><rect x="605" y="528" width="3" height="4"/><rect x="614" y="337" width="3" height="3"/><rect x="614" y="528" width="3" height="4"/><rect x="622" y="337" width="3" height="3"/><rect x="622" y="528" width="3" height="4"/><rect x="631" y="337" width="3" height="3"/><rect x="631" y="528" width="3" height="4"/><rect x="639" y="337" width="3" height="3"/><rect x="639" y="528" width="3" height="4"/><rect x="648" y="337" width="3" height="3"/><rect x="648" y="528" width="3" height="4"/><rect x="656" y="337" width="3" height="3"/><rect x="656" y="528" width="3" height="4"/><rect x="665" y="337" width="3" height="3"/><rect x="665" y="528" width="3" height="4"/><rect x="673" y="337" width="3" height="3"/><rect x="673" y="528" width="3" height="4"/><rect x="682" y="337" width="3" height="8"/><rect x="682" y="523" width="3" height="9"/><rect x="690" y="337" width="3" height="3"/><rect x="690" y="528" width="3" height="4"/><rect x="699" y="337" width="3" height="3"/><rect x="699" y="528" width="3" height="4"/><rect x="707" y="337" width="3" height="3"/><rect x="707" y="528" width="3" height="4"/><rect x="716" y="337" width="3" height="3"/><rect x="716" y="528" width="3" height="4"/><rect x="724" y="337" width="3" height="3"/><rect x="724" y="528" width="3" height="4"/><rect x="733" y="337" width="3" height="3"/><rect x="733" y="528" width="3" height="4"/><rect x="741" y="337" width="3" height="3"/><rect x="741" y="528" width="3" height="4"/><rect x="750" y="337" width="3" height="3"/><rect x="750" y="528" width="3" height="4"/><rect x="758" y="337" width="3" height="3"/><rect x="758" y="528" width="3" height="4"/><rect x="767" y="337" width="3" height="8"/><rect x="767" y="523" width="3" height="9"/><rect x="90" y="339" width="5" height="3"/><rect x="90" y="387" width="5" height="3"/><rect x="90" y="484" width="5" height="3"/></g>
<rect x="88.5" y="335.5" width="688" height="198" fill="none" stroke="#ce2029" stroke-width="3"/>
<rect x="87" y="436" width="691" height="1" fill="#000"/>
<path fill="#ce2029" d="M80.9 322.7L80.4 322.9L79.5 323.7L79.3 324.1L79.3 324.4L79.6 324.9L80.3 325.6L80.7 325.8L81.2 325.8L81.7 325.6L82.4 324.9L82.6 324.4L82.6 324.1L82.4 323.7L81.6 322.9ZM101.6 311.3L99.4 312.1L99.0 312.4L98.4 313.7L98.4 315.6L99.1 317.0L99.9 317.6L98.6 318.8L97.8 320.2L97.7 320.7L97.7 322.7L98.5 324.2L99.4 325.1L101.6 325.8L104.7 325.8L106.9 325.1L107.8 324.2L108.5 322.7L108.6 320.7L108.5 320.2L107.7 318.8L106.4 317.6L107.2 317.0L107.9 315.6L107.9 313.9L107.2 312.4L106.6 311.9L104.6 311.3ZM100.1 320.1L101.2 319.1L103.1 318.5L105.0 319.1L106.2 320.1L106.6 320.9L106.6 322.2L106.1 323.1L105.8 323.4L104.2 323.9L102.1 323.9L100.6 323.5L100.2 323.1L99.7 322.2L99.7 320.9ZM100.4 314.2L100.8 313.6L101.9 313.2L104.4 313.2L105.4 313.6L105.6 313.7L105.9 314.2L105.9 315.1L105.4 315.9L104.5 316.2L103.1 316.6L101.8 316.2L100.9 315.9L100.4 315.1ZM92.1 311.3L91.5 311.7L85.1 320.4L85.1 320.9L85.5 321.5L85.9 321.6L91.3 321.6L91.4 325.2L91.9 325.7L92.7 325.8L93.2 325.4L93.4 325.1L93.4 321.7L95.9 321.6L96.4 321.2L96.5 320.5L96.4 320.2L95.8 319.7L93.4 319.7L93.4 312.0L92.9 311.4ZM91.3 315.3L91.4 319.6L91.3 319.7L88.1 319.7L88.0 319.7ZM71.9 311.3L71.4 311.6L69.5 313.4L68.4 313.9L68.1 314.1L67.9 314.7L68.1 315.2L68.7 315.6L69.4 315.6L70.9 314.7L71.1 314.7L71.1 324.9L71.3 325.4L71.6 325.7L71.9 325.8L72.4 325.8L73.0 325.4L73.1 325.0L73.1 312.1L72.7 311.5L72.3 311.3Z"/>
<path fill="#ce2029" d="M165.9 322.7L165.3 322.9L164.5 323.7L164.3 324.1L164.3 324.4L164.6 324.9L165.2 325.6L165.7 325.8L166.2 325.8L166.7 325.6L167.3 324.9L167.6 324.4L167.6 324.1L167.4 323.7L166.5 322.9ZM186.4 311.4L185.0 312.1L184.1 312.9L183.3 314.5L183.3 315.4L183.4 315.7L183.9 316.2L184.3 316.2L184.8 316.1L185.3 315.6L185.3 314.8L185.7 314.1L186.2 313.6L187.0 313.2L189.2 313.2L190.0 313.6L190.5 314.1L190.9 314.8L190.9 315.7L189.3 318.2L182.9 324.2L182.7 324.6L182.7 325.2L183.0 325.6L183.4 325.8L193.0 325.7L193.5 325.2L193.5 324.6L193.2 324.1L192.8 323.9L186.1 323.9L190.7 319.6L192.1 317.6L192.9 316.0L192.8 314.3L192.1 312.9L191.2 312.1L189.5 311.3ZM171.9 311.4L171.4 311.7L171.2 312.4L170.6 317.8L170.8 318.2L171.2 318.6L171.9 318.6L172.3 318.4L172.9 317.9L174.2 317.4L176.0 317.4L177.5 317.9L178.4 318.9L178.9 320.2L178.9 321.2L178.4 322.5L177.3 323.5L175.9 323.9L174.4 323.9L172.8 323.4L172.5 323.1L171.8 321.9L171.1 321.5L170.7 321.6L170.2 321.9L170.0 322.2L170.1 322.9L170.8 324.2L171.7 325.1L173.8 325.8L176.4 325.8L178.3 325.2L180.0 323.7L180.2 323.3L180.8 321.6L180.9 320.1L180.0 317.7L178.6 316.3L176.4 315.6L174.1 315.5L173.0 315.9L172.9 315.8L173.2 313.2L178.7 313.2L179.2 313.1L179.5 312.8L179.6 312.5L179.6 312.0L179.1 311.4L178.7 311.3ZM154.8 311.4L153.3 312.1L152.4 312.9L151.6 314.5L151.6 315.4L151.8 315.7L152.3 316.2L152.7 316.2L153.1 316.1L153.6 315.6L153.7 314.8L154.1 314.1L154.5 313.6L155.3 313.2L157.6 313.2L158.4 313.6L158.8 314.1L159.2 314.8L159.2 315.7L157.6 318.2L151.2 324.2L151.0 324.6L151.0 325.2L151.4 325.6L151.8 325.8L161.3 325.7L161.8 325.2L161.8 324.6L161.5 324.1L161.1 323.9L154.5 323.9L159.1 319.6L160.5 317.6L161.3 316.0L161.2 314.3L160.5 312.9L159.5 312.1L157.9 311.3Z"/>
<path fill="#ce2029" d="M252.8 322.7L252.2 322.9L251.4 323.7L251.2 324.1L251.2 324.4L251.4 324.9L252.1 325.6L252.6 325.8L253.1 325.8L253.5 325.6L254.2 324.9L254.5 324.4L254.5 324.1L254.3 323.7L253.4 322.9ZM275.4 311.3L274.8 311.6L273.0 313.4L271.9 313.9L271.6 314.1L271.4 314.7L271.6 315.2L272.2 315.6L272.9 315.6L274.4 314.7L274.6 314.7L274.6 324.9L274.8 325.4L275.0 325.7L275.4 325.8L275.9 325.8L276.5 325.4L276.6 325.0L276.6 312.1L276.2 311.5L275.8 311.3ZM258.8 311.4L258.3 311.7L258.2 312.0L258.2 312.5L258.3 312.8L258.8 313.2L264.0 313.3L261.5 316.4L261.3 316.8L261.3 317.3L261.5 317.7L262.0 318.0L263.9 318.0L264.9 318.5L265.3 318.9L265.7 320.2L265.7 321.2L265.3 322.5L264.2 323.5L262.8 323.9L261.3 323.9L259.7 323.4L259.3 323.1L258.7 321.9L258.0 321.5L257.6 321.6L257.0 321.9L256.9 322.2L257.0 322.9L257.7 324.2L258.6 325.1L260.7 325.8L263.2 325.8L265.2 325.2L266.9 323.7L267.1 323.3L267.7 321.6L267.8 320.1L266.9 317.7L266.1 316.9L264.4 316.1L266.9 312.9L267.1 312.4L267.1 311.9L266.7 311.5L266.3 311.3ZM239.8 311.4L239.3 311.7L239.2 312.0L239.2 312.5L239.3 312.8L239.8 313.2L245.0 313.3L242.5 316.4L242.3 316.8L242.3 317.3L242.5 317.7L243.0 318.0L244.9 318.0L246.0 318.5L246.3 318.9L246.8 320.2L246.8 321.2L246.3 322.5L245.2 323.5L243.8 323.9L242.3 323.9L240.7 323.4L240.4 323.1L239.7 321.9L239.0 321.5L238.6 321.6L238.0 321.9L237.9 322.2L238.0 322.9L238.7 324.2L239.6 325.1L241.7 325.8L244.2 325.8L246.2 325.2L247.9 323.7L248.1 323.3L248.7 321.6L248.8 320.1L247.9 317.7L247.1 316.9L245.4 316.1L247.9 312.9L248.1 312.4L248.1 311.9L247.7 311.5L247.3 311.3Z"/>
<path fill="#ce2029" d="M335.8 322.7L335.3 322.9L334.5 323.7L334.3 324.1L334.3 324.4L334.5 324.9L335.2 325.6L335.6 325.8L336.2 325.8L336.6 325.6L337.3 324.9L337.6 324.4L337.6 324.1L337.4 323.7L336.5 322.9ZM357.9 311.3L355.6 312.1L355.2 312.4L354.0 314.2L353.2 317.4L353.2 320.9L354.0 323.5L355.6 325.1L357.7 325.8L359.0 325.8L361.1 325.1L362.6 323.7L362.9 323.3L363.5 321.6L363.5 320.7L362.7 318.4L361.2 316.9L358.9 316.1L357.9 316.1L355.8 316.7L355.6 316.9L355.4 316.9L355.8 315.1L356.9 313.6L358.1 313.2L359.3 313.2L360.4 313.6L361.0 314.6L361.6 315.0L362.1 315.0L362.8 314.4L362.8 313.7L362.1 312.4L361.8 312.1L359.5 311.3ZM358.3 318.0L360.0 318.5L361.0 319.4L361.5 320.8L361.5 321.2L361.0 322.5L360.0 323.5L358.5 323.9L358.0 323.9L356.7 323.4L355.8 322.6L355.3 320.7L355.8 319.4L356.7 318.5ZM343.9 311.3L341.7 312.1L341.3 312.4L340.7 313.7L340.7 315.6L341.4 317.0L342.2 317.6L340.8 318.8L340.1 320.2L339.9 320.7L340.0 322.7L340.8 324.2L341.6 325.1L343.8 325.8L347.0 325.8L349.2 325.1L350.0 324.2L350.8 322.7L350.9 320.7L350.7 320.2L349.9 318.8L348.6 317.6L349.4 317.0L350.1 315.6L350.2 313.9L349.5 312.4L348.9 311.9L346.8 311.3ZM342.4 320.1L343.5 319.1L345.3 318.5L347.3 319.1L348.4 320.1L348.8 320.9L348.8 322.2L348.4 323.1L348.0 323.4L346.5 323.9L344.3 323.9L342.9 323.5L342.4 323.1L342.0 322.2L342.0 320.9ZM342.6 314.2L343.0 313.6L344.1 313.2L346.7 313.2L347.6 313.6L347.9 313.7L348.2 314.2L348.2 315.1L347.6 315.9L346.7 316.2L345.4 316.6L344.1 316.2L343.2 315.9L342.6 315.1ZM322.8 311.4L322.4 311.7L322.3 312.0L322.3 312.5L322.4 312.8L322.9 313.2L328.1 313.3L325.6 316.4L325.4 316.8L325.4 317.3L325.6 317.7L326.1 318.0L328.0 318.0L329.0 318.5L329.4 318.9L329.8 320.2L329.8 321.2L329.4 322.5L328.3 323.5L326.9 323.9L325.4 323.9L323.8 323.4L323.4 323.1L322.8 321.9L322.1 321.5L321.7 321.6L321.1 321.9L321.0 322.2L321.1 322.9L321.8 324.2L322.7 325.1L324.8 325.8L327.3 325.8L329.3 325.2L331.0 323.7L331.2 323.3L331.8 321.6L331.9 320.1L331.0 317.7L330.2 316.9L328.5 316.1L331.0 312.9L331.2 312.4L331.2 311.9L330.8 311.5L330.4 311.3Z"/>
<path fill="#ce2029" d="M420.8 322.7L420.3 322.9L419.5 323.7L419.3 324.1L419.3 324.4L419.5 324.9L420.2 325.6L420.6 325.8L421.2 325.8L421.6 325.6L422.3 324.9L422.6 324.4L422.6 324.1L422.4 323.7L421.5 322.9ZM442.2 311.3L440.0 312.1L439.6 312.4L438.4 314.2L437.6 317.7L437.6 319.4L438.2 322.7L439.6 324.7L440.2 325.2L442.1 325.8L444.0 325.8L446.1 325.1L446.5 324.7L447.9 322.7L448.5 319.4L448.5 317.7L447.8 314.3L446.5 312.4L445.9 311.9L444.1 311.4ZM442.5 313.2L443.7 313.2L444.8 313.6L445.1 313.9L445.9 315.0L446.5 317.7L446.5 319.5L446.0 322.0L444.9 323.5L443.5 323.9L442.6 323.9L441.3 323.6L441.1 323.4L440.2 322.0L439.6 319.5L439.6 317.7L440.2 315.0L441.3 313.6ZM426.8 311.4L426.4 311.7L426.2 312.0L426.2 312.5L426.4 312.8L426.9 313.2L432.1 313.3L429.6 316.4L429.4 316.8L429.4 317.3L429.6 317.7L430.1 318.0L432.0 318.0L433.0 318.5L433.4 318.9L433.8 320.2L433.8 321.2L433.4 322.5L432.3 323.5L430.9 323.9L429.3 323.9L427.8 323.4L427.4 323.1L426.8 321.9L426.0 321.5L425.7 321.6L425.1 321.9L425.0 322.2L425.1 322.9L425.8 324.2L426.6 325.1L428.8 325.8L431.3 325.8L433.3 325.2L434.9 323.7L435.2 323.3L435.8 321.6L435.9 320.1L435.0 317.7L434.2 316.9L432.4 316.1L435.0 312.9L435.2 312.4L435.1 311.9L434.8 311.5L434.4 311.3ZM413.1 311.3L412.5 311.7L406.0 320.4L406.0 320.9L406.5 321.5L406.8 321.6L412.3 321.6L412.3 325.2L412.9 325.7L413.6 325.8L414.2 325.4L414.3 325.1L414.3 321.7L416.9 321.6L417.3 321.2L417.5 320.5L417.3 320.2L416.8 319.7L414.3 319.7L414.3 312.0L413.8 311.4ZM412.3 315.3L412.3 319.6L412.2 319.7L409.0 319.7L409.0 319.7Z"/>
<path fill="#ce2029" d="M505.8 322.7L505.3 322.9L504.5 323.7L504.3 324.1L504.3 324.4L504.5 324.9L505.2 325.6L505.6 325.8L506.2 325.8L506.6 325.6L507.3 324.9L507.6 324.4L507.6 324.1L507.4 323.7L506.5 322.9ZM526.5 311.3L524.4 312.1L524.0 312.4L523.3 313.7L523.3 315.6L524.0 317.0L524.8 317.6L523.5 318.8L522.7 320.2L522.6 320.7L522.7 322.7L523.4 324.2L524.3 325.1L526.5 325.8L529.6 325.8L531.8 325.1L532.7 324.2L533.5 322.7L533.5 320.7L533.4 320.2L532.6 318.8L531.3 317.6L532.1 317.0L532.8 315.6L532.9 313.9L532.1 312.4L531.6 311.9L529.5 311.3ZM525.0 320.1L526.1 319.1L528.0 318.5L530.0 319.1L531.1 320.1L531.5 320.9L531.5 322.2L531.0 323.1L530.7 323.4L529.1 323.9L527.0 323.9L525.6 323.5L525.1 323.1L524.6 322.2L524.6 320.9ZM525.3 314.2L525.7 313.6L526.8 313.2L529.3 313.2L530.3 313.6L530.6 313.7L530.8 314.2L530.8 315.1L530.3 315.9L529.4 316.2L528.1 316.6L526.7 316.2L525.8 315.9L525.3 315.1ZM515.3 311.3L513.0 312.1L512.6 312.4L511.3 314.2L510.6 317.4L510.6 320.9L511.3 323.5L512.9 325.1L515.1 325.8L516.3 325.8L518.4 325.1L519.9 323.7L520.2 323.3L520.8 321.6L520.9 320.7L520.1 318.4L518.5 316.9L516.3 316.1L515.2 316.1L513.2 316.7L512.9 316.9L512.8 316.9L513.2 315.1L514.2 313.6L515.4 313.2L516.7 313.2L517.8 313.6L518.3 314.6L518.9 315.0L519.5 315.0L520.1 314.4L520.1 313.7L519.5 312.4L519.1 312.1L516.8 311.3ZM515.7 318.0L517.4 318.5L518.4 319.4L518.8 320.8L518.8 321.2L518.4 322.5L517.3 323.5L515.9 323.9L515.3 323.9L514.0 323.4L513.2 322.6L512.6 320.7L513.1 319.4L514.1 318.5ZM498.1 311.3L497.5 311.7L491.0 320.4L491.0 320.9L491.5 321.5L491.8 321.6L497.3 321.6L497.3 325.2L497.9 325.7L498.6 325.8L499.2 325.4L499.3 325.1L499.3 321.7L501.9 321.6L502.3 321.2L502.5 320.5L502.3 320.2L501.7 319.7L499.3 319.7L499.3 312.0L498.8 311.4ZM497.3 315.3L497.3 319.6L497.2 319.7L494.0 319.7L494.0 319.7Z"/>
<path fill="#ce2029" d="M590.9 322.7L590.3 322.9L589.5 323.7L589.3 324.1L589.3 324.4L589.6 324.9L590.2 325.6L590.7 325.8L591.2 325.8L591.7 325.6L592.3 324.9L592.6 324.4L592.6 324.1L592.4 323.7L591.5 322.9ZM611.4 311.4L610.0 312.1L609.1 312.9L608.3 314.5L608.3 315.4L608.4 315.7L608.9 316.2L609.3 316.2L609.8 316.1L610.3 315.6L610.3 314.8L610.7 314.1L611.2 313.6L612.0 313.2L614.2 313.2L615.0 313.6L615.5 314.1L615.9 314.8L615.9 315.7L614.3 318.2L607.9 324.2L607.7 324.6L607.7 325.2L608.0 325.6L608.4 325.8L618.0 325.7L618.5 325.2L618.5 324.6L618.2 324.1L617.8 323.9L611.1 323.9L615.7 319.6L617.1 317.6L617.9 316.0L617.8 314.3L617.1 312.9L616.2 312.1L614.5 311.3ZM599.6 311.3L597.3 312.1L597.0 312.4L595.8 314.2L595.0 317.7L595.0 319.4L595.6 322.7L597.0 324.7L597.5 325.2L599.5 325.8L601.4 325.8L603.5 325.1L603.9 324.7L605.2 322.7L605.9 319.4L605.9 317.7L605.2 314.3L603.9 312.4L603.3 311.9L601.5 311.4ZM599.8 313.2L601.0 313.2L602.2 313.6L602.5 313.9L603.3 315.0L603.9 317.7L603.9 319.5L603.3 322.0L602.3 323.5L600.9 323.9L600.0 323.9L598.7 323.6L598.5 323.4L597.5 322.0L597.0 319.5L597.0 317.7L597.6 315.0L598.7 313.6ZM577.9 311.4L577.4 311.7L577.2 312.4L576.6 317.8L576.8 318.2L577.2 318.6L577.9 318.6L578.3 318.4L578.9 317.9L580.3 317.4L582.0 317.4L583.5 317.9L584.4 318.9L584.9 320.2L584.9 321.2L584.4 322.5L583.4 323.5L581.9 323.9L580.4 323.9L578.8 323.4L578.5 323.1L577.8 321.9L577.1 321.5L576.7 321.6L576.2 321.9L576.0 322.2L576.1 322.9L576.8 324.2L577.7 325.1L579.9 325.8L582.4 325.8L584.3 325.2L586.0 323.7L586.3 323.3L586.8 321.6L586.9 320.1L586.1 317.7L584.6 316.3L582.4 315.6L580.1 315.5L579.0 315.9L578.9 315.8L579.2 313.2L584.7 313.2L585.2 313.1L585.5 312.8L585.6 312.5L585.6 312.0L585.1 311.4L584.7 311.3Z"/>
<path fill="#ce2029" d="M675.8 322.7L675.3 322.9L674.5 323.7L674.3 324.1L674.3 324.4L674.5 324.9L675.2 325.6L675.6 325.8L676.2 325.8L676.6 325.6L677.3 324.9L677.6 324.4L677.6 324.1L677.4 323.7L676.5 322.9ZM694.5 311.4L694.0 311.7L693.9 312.0L693.9 312.5L694.0 312.8L694.6 313.2L699.8 313.3L697.3 316.4L697.1 316.8L697.1 317.3L697.3 317.7L697.7 318.0L699.6 318.0L700.7 318.5L701.0 318.9L701.5 320.2L701.5 321.2L701.0 322.5L700.0 323.5L698.5 323.9L697.0 323.9L695.4 323.4L695.1 323.1L694.4 321.9L693.7 321.5L693.3 321.6L692.8 321.9L692.7 322.2L692.7 322.9L693.4 324.2L694.3 325.1L696.5 325.8L699.0 325.8L701.0 325.2L702.6 323.7L702.9 323.3L703.5 321.6L703.5 320.1L702.7 317.7L701.9 316.9L700.1 316.1L702.7 312.9L702.9 312.4L702.8 311.9L702.5 311.5L702.0 311.3ZM681.8 311.4L681.4 311.7L681.2 312.0L681.2 312.5L681.4 312.8L681.9 313.2L687.1 313.3L684.6 316.4L684.4 316.8L684.4 317.3L684.6 317.7L685.1 318.0L687.0 318.0L688.0 318.5L688.4 318.9L688.8 320.2L688.8 321.2L688.4 322.5L687.3 323.5L685.9 323.9L684.3 323.9L682.8 323.4L682.4 323.1L681.8 321.9L681.0 321.5L680.7 321.6L680.1 321.9L680.0 322.2L680.1 322.9L680.8 324.2L681.6 325.1L683.8 325.8L686.3 325.8L688.3 325.2L689.9 323.7L690.2 323.3L690.8 321.6L690.9 320.1L690.0 317.7L689.2 316.9L687.4 316.1L690.0 312.9L690.2 312.4L690.1 311.9L689.8 311.5L689.4 311.3ZM662.8 311.4L662.4 311.7L662.2 312.4L661.6 317.8L661.8 318.2L662.2 318.6L662.8 318.6L663.2 318.4L663.8 317.9L665.2 317.4L667.0 317.4L668.5 317.9L669.4 318.9L669.8 320.2L669.8 321.2L669.4 322.5L668.3 323.5L666.9 323.9L665.4 323.9L663.8 323.4L663.4 323.1L662.8 321.9L662.1 321.5L661.7 321.6L661.1 321.9L661.0 322.2L661.1 322.9L661.8 324.2L662.7 325.1L664.8 325.8L667.3 325.8L669.3 325.2L671.0 323.7L671.2 323.3L671.8 321.6L671.9 320.1L671.0 317.7L669.6 316.3L667.4 315.6L665.1 315.5L664.0 315.9L663.8 315.8L664.2 313.2L669.6 313.2L670.2 313.1L670.4 312.8L670.6 312.5L670.6 312.0L670.1 311.4L669.7 311.3Z"/>
<path fill="#ce2029" d="M760.8 322.7L760.3 322.9L759.5 323.7L759.3 324.1L759.3 324.4L759.5 324.9L760.2 325.6L760.6 325.8L761.2 325.8L761.6 325.6L762.3 324.9L762.6 324.4L762.6 324.1L762.4 323.7L761.5 322.9ZM779.5 311.4L779.0 311.7L778.8 312.4L778.2 317.8L778.4 318.2L778.8 318.6L779.5 318.6L779.9 318.4L780.5 317.9L781.9 317.4L783.7 317.4L785.1 317.9L786.0 318.9L786.5 320.2L786.5 321.2L786.0 322.5L785.0 323.5L783.5 323.9L782.0 323.9L780.4 323.4L780.1 323.1L779.4 321.9L778.7 321.5L778.3 321.6L777.8 321.9L777.7 322.2L777.7 322.9L778.4 324.2L779.3 325.1L781.5 325.8L784.0 325.8L786.0 325.2L787.6 323.7L787.9 323.3L788.5 321.6L788.5 320.1L787.7 317.7L786.2 316.3L784.0 315.6L781.7 315.5L780.6 315.9L780.5 315.8L780.8 313.2L786.3 313.2L786.8 313.1L787.1 312.8L787.2 312.5L787.2 312.0L786.8 311.4L786.4 311.3ZM766.8 311.4L766.4 311.7L766.2 312.4L765.6 317.8L765.8 318.2L766.2 318.6L766.8 318.6L767.2 318.4L767.8 317.9L769.2 317.4L771.0 317.4L772.4 317.9L773.4 318.9L773.8 320.2L773.8 321.2L773.4 322.5L772.3 323.5L770.9 323.9L769.3 323.9L767.8 323.4L767.4 323.1L766.8 321.9L766.0 321.5L765.7 321.6L765.1 321.9L765.0 322.2L765.1 322.9L765.8 324.2L766.6 325.1L768.8 325.8L771.3 325.8L773.3 325.2L774.9 323.7L775.2 323.3L775.8 321.6L775.9 320.1L775.0 317.7L773.6 316.3L771.4 315.6L769.1 315.5L768.0 315.9L767.8 315.8L768.2 313.2L773.6 313.2L774.2 313.1L774.4 312.8L774.6 312.5L774.6 312.0L774.1 311.4L773.7 311.3ZM747.8 311.4L747.4 311.7L747.2 312.4L746.6 317.8L746.8 318.2L747.2 318.6L747.8 318.6L748.2 318.4L748.8 317.9L750.2 317.4L752.0 317.4L753.5 317.9L754.4 318.9L754.8 320.2L754.8 321.2L754.4 322.5L753.3 323.5L751.9 323.9L750.4 323.9L748.8 323.4L748.4 323.1L747.8 321.9L747.1 321.5L746.7 321.6L746.1 321.9L746.0 322.2L746.1 322.9L746.8 324.2L747.7 325.1L749.8 325.8L752.3 325.8L754.3 325.2L756.0 323.7L756.2 323.3L756.8 321.6L756.9 320.1L756.0 317.7L754.6 316.3L752.4 315.6L750.1 315.5L749.0 315.9L748.8 315.8L749.2 313.2L754.6 313.2L755.2 313.1L755.4 312.8L755.6 312.5L755.6 312.0L755.1 311.4L754.7 311.3Z"/>
<path fill="#ce2029" d="M86.6 549.5L84.4 550.2L84.0 550.6L82.8 552.4L82.0 555.9L82.0 557.6L82.7 560.9L84.0 562.9L84.6 563.4L86.5 564.0L88.4 564.0L90.5 563.3L90.9 562.9L92.3 560.9L92.9 557.6L92.9 555.9L92.2 552.5L90.9 550.6L90.3 550.1L88.5 549.6ZM86.9 551.4L88.1 551.4L89.2 551.8L89.5 552.1L90.3 553.2L90.9 555.9L90.9 557.7L90.4 560.2L89.3 561.7L87.9 562.1L87.0 562.1L85.8 561.8L85.5 561.6L84.6 560.2L84.0 557.7L84.0 555.9L84.6 553.2L85.7 551.8Z"/>
<path fill="#ce2029" d="M178.0 549.5L175.7 550.2L175.4 550.6L174.2 552.4L173.4 555.9L173.4 557.6L174.0 560.9L175.4 562.9L175.9 563.4L177.9 564.0L179.8 564.0L181.9 563.3L182.3 562.9L183.7 560.9L184.3 557.6L184.3 555.9L183.6 552.5L182.3 550.6L181.7 550.1L179.9 549.6ZM178.2 551.4L179.4 551.4L180.6 551.8L180.9 552.1L181.7 553.2L182.3 555.9L182.3 557.7L181.7 560.2L180.7 561.7L179.3 562.1L178.4 562.1L177.1 561.8L176.9 561.6L175.9 560.2L175.4 557.7L175.4 555.9L176.0 553.2L177.1 551.8ZM166.6 549.5L166.0 549.8L164.2 551.6L163.1 552.1L162.8 552.3L162.6 552.9L162.8 553.4L163.4 553.8L164.1 553.8L165.6 552.9L165.8 552.9L165.8 563.1L166.0 563.6L166.2 563.9L166.6 564.0L167.1 564.0L167.7 563.6L167.8 563.2L167.8 550.3L167.4 549.7L167.0 549.5Z"/>
<path fill="#ce2029" d="M262.9 549.5L260.7 550.2L260.3 550.6L259.1 552.4L258.3 555.9L258.3 557.6L259.0 560.9L260.3 562.9L260.9 563.4L262.8 564.0L264.7 564.0L266.8 563.3L267.2 562.9L268.6 560.9L269.2 557.6L269.2 555.9L268.5 552.5L267.2 550.6L266.6 550.1L264.8 549.6ZM263.2 551.4L264.4 551.4L265.5 551.8L265.8 552.1L266.6 553.2L267.2 555.9L267.2 557.7L266.7 560.2L265.6 561.7L264.2 562.1L263.3 562.1L262.0 561.8L261.8 561.6L260.9 560.2L260.3 557.7L260.3 555.9L260.9 553.2L262.0 551.8ZM249.5 549.6L248.0 550.2L247.1 551.1L246.3 552.7L246.3 553.6L246.4 553.9L247.0 554.4L247.3 554.4L247.8 554.3L248.3 553.8L248.3 553.0L248.7 552.2L249.2 551.8L250.0 551.4L252.2 551.4L253.0 551.8L253.5 552.2L253.9 553.0L253.9 553.9L252.3 556.4L245.9 562.4L245.7 562.8L245.7 563.4L246.0 563.8L246.4 564.0L256.0 563.9L256.5 563.4L256.5 562.8L256.2 562.3L255.8 562.1L249.1 562.1L253.7 557.8L255.1 555.8L255.9 554.2L255.9 552.5L255.1 551.1L254.2 550.2L252.6 549.5Z"/>
<path fill="#ce2029" d="M347.9 549.5L345.7 550.2L345.3 550.6L344.1 552.4L343.3 555.9L343.3 557.6L344.0 560.9L345.3 562.9L345.9 563.4L347.8 564.0L349.7 564.0L351.8 563.3L352.2 562.9L353.6 560.9L354.2 557.6L354.2 555.9L353.5 552.5L352.2 550.6L351.6 550.1L349.8 549.6ZM348.2 551.4L349.4 551.4L350.5 551.8L350.8 552.1L351.6 553.2L352.2 555.9L352.2 557.7L351.7 560.2L350.6 561.7L349.2 562.1L348.3 562.1L347.0 561.8L346.8 561.6L345.9 560.2L345.3 557.7L345.3 555.9L345.9 553.2L347.0 551.8ZM332.5 549.6L332.1 549.9L331.9 550.2L331.9 550.7L332.1 551.0L332.6 551.4L337.8 551.5L335.3 554.6L335.1 555.0L335.1 555.5L335.3 555.9L335.8 556.2L337.7 556.2L338.7 556.7L339.1 557.1L339.5 558.4L339.5 559.4L339.1 560.7L338.0 561.7L336.6 562.1L335.0 562.1L333.5 561.6L333.1 561.3L332.5 560.1L331.8 559.7L331.4 559.8L330.8 560.1L330.7 560.4L330.8 561.1L331.5 562.4L332.3 563.2L334.5 564.0L337.0 564.0L339.0 563.4L340.7 561.9L340.9 561.5L341.5 559.8L341.6 558.2L340.7 555.9L339.9 555.1L338.1 554.2L340.7 551.1L340.9 550.6L340.9 550.1L340.5 549.7L340.1 549.5Z"/>
<path fill="#ce2029" d="M432.9 549.5L430.7 550.2L430.3 550.6L429.1 552.4L428.3 555.9L428.3 557.6L429.0 560.9L430.3 562.9L430.9 563.4L432.8 564.0L434.7 564.0L436.8 563.3L437.2 562.9L438.6 560.9L439.2 557.6L439.2 555.9L438.5 552.5L437.2 550.6L436.6 550.1L434.8 549.6ZM433.2 551.4L434.4 551.4L435.5 551.8L435.8 552.1L436.6 553.2L437.2 555.9L437.2 557.7L436.7 560.2L435.6 561.7L434.2 562.1L433.3 562.1L432.0 561.8L431.8 561.6L430.9 560.2L430.3 557.7L430.3 555.9L430.9 553.2L432.0 551.8ZM422.8 549.5L422.2 549.9L415.7 558.6L415.7 559.1L416.2 559.7L416.5 559.8L422.0 559.8L422.0 563.4L422.6 563.9L423.3 564.0L423.9 563.6L424.0 563.2L424.0 559.9L426.6 559.8L427.0 559.4L427.2 558.7L427.0 558.4L426.4 557.9L424.0 557.9L424.0 550.2L423.5 549.6ZM422.0 553.5L422.0 557.8L421.9 557.9L418.7 557.9L418.7 557.9Z"/>
<path fill="#ce2029" d="M517.9 549.5L515.7 550.2L515.3 550.6L514.1 552.4L513.3 555.9L513.3 557.6L514.0 560.9L515.3 562.9L515.9 563.4L517.8 564.0L519.7 564.0L521.8 563.3L522.2 562.9L523.6 560.9L524.2 557.6L524.2 555.9L523.5 552.5L522.2 550.6L521.6 550.1L519.8 549.6ZM518.2 551.4L519.4 551.4L520.5 551.8L520.8 552.1L521.6 553.2L522.2 555.9L522.2 557.7L521.7 560.2L520.6 561.7L519.2 562.1L518.3 562.1L517.0 561.8L516.8 561.6L515.9 560.2L515.3 557.7L515.3 555.9L515.9 553.2L517.0 551.8ZM502.5 549.6L502.1 549.9L501.9 550.6L501.3 556.0L501.5 556.4L501.9 556.8L502.5 556.8L502.9 556.6L503.5 556.1L504.9 555.6L506.7 555.6L508.1 556.1L509.1 557.1L509.5 558.4L509.5 559.4L509.1 560.7L508.0 561.7L506.6 562.1L505.0 562.1L503.5 561.6L503.1 561.3L502.5 560.1L501.8 559.7L501.4 559.8L500.8 560.1L500.7 560.4L500.8 561.1L501.5 562.4L502.3 563.2L504.5 564.0L507.0 564.0L509.0 563.4L510.7 561.9L510.9 561.5L511.5 559.8L511.6 558.2L510.7 555.9L509.3 554.5L507.1 553.8L504.8 553.7L503.7 554.1L503.5 554.0L503.9 551.4L509.3 551.4L509.9 551.2L510.1 551.0L510.3 550.7L510.3 550.2L509.8 549.6L509.4 549.5Z"/>
<path fill="#ce2029" d="M602.6 549.5L600.4 550.2L600.0 550.6L598.8 552.4L598.0 555.9L598.0 557.6L598.7 560.9L600.0 562.9L600.6 563.4L602.5 564.0L604.4 564.0L606.5 563.3L606.9 562.9L608.3 560.9L608.9 557.6L608.9 555.9L608.2 552.5L606.9 550.6L606.3 550.1L604.5 549.6ZM602.9 551.4L604.1 551.4L605.2 551.8L605.5 552.1L606.3 553.2L606.9 555.9L606.9 557.7L606.4 560.2L605.3 561.7L603.9 562.1L603.0 562.1L601.8 561.8L601.5 561.6L600.6 560.2L600.0 557.7L600.0 555.9L600.6 553.2L601.7 551.8ZM590.7 549.5L588.4 550.2L588.0 550.6L586.7 552.4L586.0 555.6L586.0 559.1L586.7 561.7L588.3 563.2L590.5 564.0L591.7 564.0L593.8 563.3L595.4 561.9L595.6 561.5L596.2 559.8L596.3 558.9L595.5 556.6L593.9 555.1L591.7 554.3L590.6 554.3L588.6 554.9L588.3 555.1L588.2 555.1L588.6 553.2L589.6 551.8L590.8 551.4L592.1 551.4L593.2 551.8L593.8 552.8L594.3 553.2L594.9 553.2L595.6 552.6L595.6 551.9L594.9 550.6L594.5 550.2L592.3 549.5ZM591.1 556.2L592.8 556.7L593.8 557.6L594.2 559.0L594.2 559.4L593.8 560.7L592.7 561.7L591.3 562.1L590.7 562.1L589.4 561.6L588.6 560.8L588.0 558.9L588.5 557.6L589.5 556.7Z"/>
<path fill="#ce2029" d="M687.9 549.5L685.7 550.2L685.3 550.6L684.1 552.4L683.3 555.9L683.3 557.6L684.0 560.9L685.3 562.9L685.9 563.4L687.8 564.0L689.7 564.0L691.8 563.3L692.2 562.9L693.6 560.9L694.2 557.6L694.2 555.9L693.5 552.5L692.2 550.6L691.6 550.1L689.8 549.6ZM688.2 551.4L689.4 551.4L690.5 551.8L690.8 552.1L691.6 553.2L692.2 555.9L692.2 557.7L691.7 560.2L690.6 561.7L689.2 562.1L688.3 562.1L687.0 561.8L686.8 561.6L685.9 560.2L685.3 557.7L685.3 555.9L685.9 553.2L687.0 551.8ZM680.8 549.5L671.5 549.5L671.2 549.6L670.7 550.2L670.7 550.8L671.1 551.2L671.6 551.4L678.9 551.5L673.3 562.6L673.3 563.4L673.9 564.0L674.7 563.9L675.1 563.5L681.5 550.8L681.6 550.4L681.4 550.0Z"/>
<path fill="#ce2029" d="M772.9 549.5L770.7 550.2L770.4 550.6L769.1 552.4L768.3 555.9L768.3 557.6L769.0 560.9L770.4 562.9L770.9 563.4L772.9 564.0L774.7 564.0L776.8 563.3L777.2 562.9L778.6 560.9L779.3 557.6L779.3 555.9L778.5 552.5L777.2 550.6L776.6 550.1L774.9 549.6ZM773.2 551.4L774.4 551.4L775.6 551.8L775.8 552.1L776.6 553.2L777.2 555.9L777.2 557.7L776.7 560.2L775.6 561.7L774.3 562.1L773.3 562.1L772.1 561.8L771.8 561.6L770.9 560.2L770.4 557.7L770.4 555.9L771.0 553.2L772.0 551.8ZM759.6 549.5L757.4 550.2L757.0 550.6L756.4 551.9L756.4 553.8L757.1 555.2L757.9 555.8L756.6 557.0L755.8 558.4L755.7 558.9L755.7 560.9L756.5 562.4L757.4 563.2L759.6 564.0L762.7 564.0L764.9 563.2L765.8 562.4L766.5 560.9L766.6 558.9L766.5 558.4L765.7 557.0L764.4 555.8L765.2 555.2L765.9 553.8L766.0 552.1L765.2 550.6L764.6 550.1L762.6 549.5ZM758.1 558.3L759.2 557.2L761.1 556.7L763.0 557.2L764.2 558.3L764.6 559.1L764.6 560.4L764.1 561.3L763.8 561.6L762.2 562.1L760.1 562.1L758.6 561.7L758.2 561.3L757.7 560.4L757.7 559.1ZM758.4 552.4L758.8 551.8L759.9 551.4L762.4 551.4L763.4 551.8L763.6 551.9L763.9 552.4L763.9 553.3L763.4 554.1L762.5 554.4L761.1 554.8L759.8 554.4L758.9 554.1L758.4 553.3Z"/>
<path fill="#ce2029" d="M73.9 335.5L71.7 336.2L71.3 336.6L70.1 338.4L69.3 341.9L69.3 343.6L69.9 346.9L71.3 348.9L71.9 349.4L73.8 350.0L75.7 350.0L77.8 349.3L78.2 348.9L79.6 346.9L80.2 343.6L80.2 341.9L79.5 338.5L78.2 336.6L77.6 336.1L75.8 335.6ZM74.2 337.4L75.4 337.4L76.5 337.8L76.8 338.1L77.6 339.2L78.2 341.9L78.2 343.7L77.7 346.2L76.6 347.7L75.2 348.1L74.3 348.1L73.0 347.8L72.8 347.6L71.9 346.2L71.3 343.7L71.3 341.9L71.9 339.2L73.0 337.8ZM60.5 335.6L59.0 336.2L58.1 337.1L57.3 338.7L57.3 339.6L57.4 339.9L57.9 340.4L58.3 340.4L58.8 340.3L59.3 339.8L59.3 339.0L59.7 338.2L60.2 337.8L61.0 337.4L63.2 337.4L64.0 337.8L64.5 338.2L64.9 339.0L64.9 339.9L63.3 342.4L56.9 348.4L56.7 348.8L56.7 349.4L57.0 349.8L57.4 350.0L67.0 349.9L67.5 349.4L67.5 348.8L67.2 348.3L66.8 348.1L60.1 348.1L64.7 343.8L66.1 341.8L66.9 340.2L66.8 338.5L66.1 337.1L65.2 336.2L63.6 335.5Z"/>
<path fill="#ce2029" d="M73.9 382.0L71.7 382.8L71.3 383.1L70.1 384.9L69.3 388.4L69.3 390.1L69.9 393.4L71.3 395.4L71.9 395.9L73.8 396.5L75.7 396.5L77.8 395.8L78.2 395.4L79.6 393.4L80.2 390.1L80.2 388.4L79.5 385.0L78.2 383.1L77.6 382.6L75.8 382.1ZM74.2 383.9L75.4 383.9L76.5 384.3L76.8 384.6L77.6 385.7L78.2 388.4L78.2 390.2L77.7 392.7L76.6 394.2L75.2 394.6L74.3 394.6L73.0 394.2L72.8 394.1L71.9 392.7L71.3 390.2L71.3 388.4L71.9 385.7L73.0 384.3ZM62.6 382.0L62.0 382.3L60.1 384.1L59.0 384.6L58.7 384.8L58.5 385.4L58.7 385.9L59.3 386.3L60.0 386.2L61.5 385.4L61.7 385.4L61.7 395.6L61.9 396.1L62.2 396.4L62.5 396.5L63.0 396.5L63.6 396.1L63.7 395.7L63.7 382.8L63.4 382.2L62.9 382.0Z"/>
<path fill="#ce2029" d="M73.9 431.0L71.7 431.8L71.3 432.1L70.1 433.9L69.3 437.4L69.3 439.1L69.9 442.4L71.3 444.4L71.9 444.9L73.8 445.5L75.7 445.5L77.8 444.8L78.2 444.4L79.6 442.4L80.2 439.1L80.2 437.4L79.5 434.0L78.2 432.1L77.6 431.6L75.8 431.1ZM74.2 432.9L75.4 432.9L76.5 433.3L76.8 433.6L77.6 434.7L78.2 437.4L78.2 439.2L77.7 441.7L76.6 443.2L75.2 443.6L74.3 443.6L73.0 443.2L72.8 443.1L71.9 441.7L71.3 439.2L71.3 437.4L71.9 434.7L73.0 433.3Z"/>
<path fill="#ce2029" d="M40.9 486.7L40.9 487.0L41.1 487.4L41.7 487.8L53.5 487.8L53.8 487.7L54.3 487.1L54.3 486.6L53.9 486.1L53.3 485.9L41.9 485.9L41.4 486.0L41.0 486.4ZM74.0 478.7L71.7 479.4L71.3 479.8L70.1 481.5L69.4 484.8L69.4 487.1L70.0 490.1L71.4 492.2L72.1 492.6L73.8 493.2L75.8 493.2L77.9 492.4L79.4 490.5L79.6 489.9L80.2 487.1L80.2 484.8L79.6 481.8L78.2 479.7L77.7 479.3L75.6 478.7ZM74.2 480.6L75.4 480.6L76.6 481.0L77.7 482.4L78.3 485.3L78.3 486.6L77.7 489.4L76.6 490.9L75.2 491.3L74.1 491.3L73.1 490.9L72.8 490.7L71.9 489.4L71.4 487.0L71.4 484.9L71.9 482.4L73.0 481.0ZM62.6 478.7L62.2 478.9L60.3 480.7L59.1 481.2L58.7 481.7L58.6 482.3L58.7 482.6L59.1 482.9L59.8 483.0L61.2 482.4L61.7 482.0L61.8 482.1L61.8 492.4L61.9 492.8L62.2 493.1L62.5 493.2L63.0 493.2L63.6 492.9L63.8 492.3L63.8 479.7L63.6 479.1L63.3 478.8Z"/>
<path fill="#ce2029" d="M40.9 527.2L40.9 527.5L41.1 528.0L41.7 528.3L53.5 528.3L53.8 528.2L54.3 527.6L54.3 527.1L53.9 526.6L53.3 526.4L41.9 526.4L41.4 526.5L41.0 526.9ZM74.0 519.2L71.7 520.0L71.3 520.3L70.1 522.0L69.4 525.3L69.4 527.6L70.0 530.6L71.4 532.7L72.1 533.1L73.8 533.7L75.8 533.7L77.9 533.0L79.4 531.0L79.6 530.5L80.2 527.6L80.2 525.3L79.6 522.3L78.2 520.2L77.7 519.8L75.6 519.2ZM74.2 521.1L75.4 521.1L76.6 521.5L77.7 523.0L78.3 525.8L78.3 527.1L77.7 530.0L76.6 531.4L75.2 531.8L74.1 531.8L73.1 531.5L72.8 531.2L71.9 530.0L71.4 527.5L71.4 525.4L71.9 523.0L73.0 521.5ZM59.1 519.9L58.1 520.9L57.4 522.3L57.4 523.4L57.7 524.0L58.3 524.1L58.9 524.0L59.3 523.6L59.3 522.8L59.7 522.0L60.3 521.5L61.0 521.1L63.2 521.1L64.0 521.5L64.5 522.0L64.9 522.8L64.9 523.6L63.3 526.1L56.8 532.3L56.7 532.6L56.8 533.1L57.4 533.7L66.8 533.7L67.4 533.3L67.6 533.0L67.4 532.3L66.8 531.8L60.2 531.8L64.9 527.3L66.2 525.5L67.0 523.8L67.0 522.6L66.8 522.1L66.1 520.7L65.1 519.9L63.6 519.2L60.7 519.2Z"/>
<path fill="#ce2029" d="M442.9 579.6L441.5 580.2L439.8 581.7L439.0 583.7L439.0 585.2L439.8 587.1L441.4 588.6L443.0 589.3L445.5 589.3L447.1 588.7L448.6 587.4L448.9 586.9L448.9 586.6L448.7 586.2L448.3 585.9L447.6 585.8L447.2 586.0L445.9 587.2L445.2 587.5L443.6 587.6L442.5 587.1L441.7 586.3L441.1 584.8L448.2 584.8L448.8 584.3L448.9 584.0L448.9 582.6L448.0 581.0L447.0 580.2L445.3 579.5ZM441.5 582.8L442.7 581.7L443.5 581.4L445.0 581.4L446.0 581.8L446.5 582.3L446.8 582.9L441.6 583.0ZM428.4 579.7L428.0 580.2L428.1 580.8L430.9 584.0L431.2 584.5L428.2 587.9L428.0 588.3L428.1 588.9L428.7 589.3L429.3 589.3L429.7 589.2L432.6 585.9L435.5 589.2L435.9 589.3L436.5 589.3L436.7 589.2L437.1 588.9L437.2 588.6L437.2 588.3L437.0 587.9L434.2 584.8L434.0 584.4L437.1 580.8L437.2 580.2L437.0 579.9L436.2 579.5L435.6 579.7L432.6 583.0L429.6 579.7L429.1 579.5ZM424.4 579.5L423.9 579.7L423.5 580.2L423.5 588.7L423.9 589.2L424.2 589.3L424.8 589.3L425.0 589.2L425.5 588.7L425.5 580.2L425.1 579.7ZM452.2 575.5L451.9 575.7L451.5 576.0L451.3 576.4L451.3 588.4L451.4 588.7L451.7 589.2L452.1 589.3L452.7 589.3L453.3 588.9L453.4 588.6L453.4 576.2L453.0 575.7L452.6 575.5ZM419.2 576.2L416.8 575.5L410.6 575.5L410.2 575.7L409.9 576.1L409.8 588.6L409.9 588.9L410.3 589.2L410.5 589.3L411.3 589.3L411.8 588.7L412.0 583.6L417.0 583.6L419.1 583.0L420.2 582.0L421.0 580.7L421.0 578.6L420.3 577.3ZM411.9 577.4L416.7 577.4L418.1 577.8L418.5 578.2L418.9 579.0L418.9 580.2L418.5 581.0L418.0 581.4L416.5 581.8L412.0 581.8ZM424.1 575.0L423.0 575.9L422.8 576.2L422.8 576.7L423.0 577.0L423.7 577.7L424.2 577.9L424.8 577.9L425.2 577.7L425.9 577.1L426.2 576.6L426.2 576.3L426.0 575.9L425.2 575.2L424.8 575.0Z"/>
<path fill="#ce2029" transform="translate(6.8 528.0) rotate(-90)" d="M166.5 6.6L164.7 7.4L163.2 8.8L162.4 11.1L162.4 12.7L163.1 14.6L164.8 16.2L166.3 16.9L168.8 16.9L170.4 16.1L171.8 14.8L172.0 14.4L172.0 13.9L171.9 13.6L171.4 13.3L170.8 13.2L170.5 13.3L169.3 14.5L168.3 15.0L166.9 15.0L166.0 14.6L164.9 13.6L164.4 12.1L171.4 12.1L171.8 11.8L172.0 11.4L172.0 9.7L171.2 8.2L170.3 7.3L168.9 6.6ZM164.8 10.1L164.9 9.8L165.9 8.9L166.8 8.5L168.3 8.5L169.1 8.9L169.6 9.3L170.0 10.1L169.9 10.2ZM152.1 6.7L151.6 7.2L151.5 7.6L151.7 8.1L154.8 11.8L151.7 15.4L151.5 15.9L151.7 16.5L152.3 16.9L152.9 16.9L153.1 16.8L156.1 13.3L158.8 16.6L159.3 16.9L159.8 16.9L160.2 16.7L160.6 16.3L160.6 15.6L157.4 11.7L160.4 8.2L160.6 7.8L160.6 7.3L160.2 6.8L159.6 6.6L159.0 6.8L156.1 10.2L153.4 6.9L152.9 6.6L152.5 6.6ZM148.2 6.6L147.6 6.7L147.2 7.1L147.1 7.4L147.1 16.1L147.2 16.4L147.8 16.9L148.4 16.9L148.7 16.8L149.0 16.5L149.2 16.0L149.2 7.5L149.0 7.1L148.6 6.7ZM140.8 6.6L138.5 6.6L137.0 7.2L136.6 6.8L136.0 6.6L135.4 6.8L135.1 7.1L135.0 20.4L135.2 20.8L135.7 21.1L136.5 21.0L136.8 20.8L137.0 20.4L137.1 16.3L138.3 16.9L140.7 16.9L142.3 16.2L143.8 14.8L144.0 14.4L144.7 12.3L144.7 11.1L144.0 9.1L143.9 8.8L142.4 7.4ZM138.7 8.5L140.3 8.5L141.2 8.9L142.1 9.8L142.7 11.3L142.7 12.3L142.2 13.6L141.1 14.6L140.2 15.0L138.8 15.0L137.8 14.5L137.0 13.8L137.0 9.8L137.9 8.9ZM96.5 6.6L96.0 6.8L95.7 7.0L95.5 7.6L95.5 15.9L95.6 16.3L95.9 16.7L96.3 16.9L96.8 16.9L97.4 16.4L97.6 16.1L97.6 7.3L97.2 6.8ZM52.3 6.6L50.8 7.3L49.2 8.8L48.4 10.9L48.4 12.5L49.1 14.6L50.7 16.1L52.3 16.9L54.8 16.9L56.3 16.2L57.8 14.8L58.1 14.3L58.1 14.0L57.9 13.6L57.5 13.3L56.8 13.2L56.4 13.4L55.1 14.6L54.4 14.9L52.9 15.0L51.9 14.5L51.0 13.7L50.5 12.1L57.4 12.1L58.0 11.6L58.1 11.3L58.1 9.8L57.2 8.1L56.2 7.3L54.6 6.6ZM50.9 10.0L52.0 8.9L52.8 8.5L54.3 8.5L55.2 8.9L55.7 9.4L56.0 10.1L50.9 10.2ZM40.8 6.6L39.3 7.4L37.7 8.9L36.9 11.1L37.0 12.7L37.7 14.6L39.4 16.2L40.9 16.9L43.3 16.9L44.8 16.2L46.4 14.8L46.6 14.3L46.5 13.6L46.2 13.3L45.8 13.2L45.2 13.3L43.6 14.6L42.8 15.0L41.4 15.0L40.6 14.6L39.5 13.6L39.0 12.3L39.0 11.2L39.5 9.9L40.5 8.9L41.3 8.5L42.9 8.5L43.8 8.9L45.0 10.1L45.6 10.3L46.0 10.3L46.4 9.9L46.6 9.6L46.6 9.1L46.4 8.8L45.0 7.4L43.4 6.6ZM27.3 7.3L25.5 9.0L24.9 10.9L24.9 12.6L25.7 14.7L27.2 16.1L28.8 16.9L31.2 16.9L32.4 16.3L33.2 16.9L33.8 16.9L34.1 16.8L34.4 16.5L34.6 16.0L34.6 7.5L34.4 7.1L34.0 6.7L33.6 6.6L33.0 6.7L32.6 7.2L31.0 6.6L29.0 6.6ZM29.2 8.5L30.8 8.5L31.6 8.9L32.5 9.8L32.5 13.8L31.6 14.6L30.7 15.0L29.3 15.0L28.4 14.6L27.4 13.6L26.9 12.4L26.9 11.4L27.4 9.9L28.5 8.9ZM19.2 6.6L16.9 6.6L15.4 7.2L14.9 6.7L14.4 6.6L13.9 6.7L13.5 7.2L13.4 20.3L13.5 20.6L14.1 21.1L14.7 21.1L15.0 20.9L15.4 20.4L15.5 16.3L16.7 16.9L19.2 16.9L20.8 16.1L22.4 14.4L23.1 12.5L23.1 11.0L22.3 8.8L20.7 7.3ZM17.2 8.5L18.7 8.5L19.5 8.9L20.6 9.9L21.0 11.1L21.0 12.3L20.5 13.7L19.6 14.5L18.6 15.0L17.0 14.9L16.4 14.6L15.5 13.8L15.5 9.7L16.2 8.9ZM175.4 2.4L174.9 2.6L174.5 3.1L174.5 16.1L174.6 16.4L175.0 16.8L175.2 16.9L175.8 16.9L176.3 16.6L176.5 15.9L176.5 3.3L176.3 2.8L176.0 2.5ZM109.8 2.4L109.3 2.6L108.9 3.2L108.9 6.5L107.5 6.7L107.0 7.2L107.0 7.9L107.6 8.4L108.9 8.6L108.9 13.7L109.7 15.9L110.2 16.3L111.6 16.9L113.3 16.9L113.7 16.8L114.1 16.3L114.1 15.9L113.9 15.4L113.3 15.0L112.1 15.0L111.4 14.7L111.0 13.5L111.0 8.6L112.6 8.5L113.1 8.3L113.4 7.9L113.5 7.3L113.3 6.9L112.8 6.6L111.0 6.5L110.9 3.0L110.4 2.5ZM105.6 2.4L103.8 2.4L102.3 3.2L101.9 3.6L101.3 5.3L101.3 6.5L100.0 6.6L99.5 7.1L99.3 7.4L99.4 7.9L99.7 8.3L100.2 8.5L101.3 8.6L101.3 16.1L101.4 16.4L102.0 16.9L102.5 16.9L102.9 16.7L103.2 16.4L103.3 15.9L103.3 8.6L105.2 8.4L105.6 8.1L105.8 7.7L105.7 7.1L105.2 6.6L103.3 6.5L103.3 5.7L103.7 4.8L103.9 4.5L104.3 4.3L105.8 4.3L106.3 3.9L106.4 3.6L106.4 3.1L106.0 2.5ZM83.8 2.6L83.4 3.2L83.4 16.1L83.6 16.4L84.2 16.9L84.7 16.9L85.0 16.8L85.4 16.3L85.5 10.3L87.0 8.9L87.8 8.5L89.3 8.5L90.1 8.9L90.5 10.1L90.5 16.2L90.6 16.4L91.2 16.9L91.7 16.9L92.0 16.8L92.5 16.2L92.5 9.6L91.7 7.6L91.3 7.3L89.6 6.6L87.3 6.6L85.8 7.3L85.6 7.6L85.4 3.0L85.0 2.5L84.6 2.4L84.3 2.4ZM74.1 2.4L72.0 3.0L70.4 4.4L70.0 5.1L70.0 6.3L70.2 6.8L70.9 8.1L71.9 9.0L73.4 9.7L76.7 10.7L78.1 11.3L78.5 11.7L79.0 12.6L79.0 13.8L78.2 14.5L76.9 14.9L74.5 15.0L72.9 14.5L71.6 13.3L70.9 13.2L70.6 13.3L70.2 13.7L70.1 14.4L70.2 14.7L71.8 16.1L73.9 16.9L77.1 16.9L79.3 16.1L80.8 14.7L81.0 14.1L81.0 12.4L80.9 11.9L80.2 10.6L79.1 9.6L77.9 9.1L74.2 7.9L72.9 7.3L72.6 7.0L72.1 6.1L72.1 5.6L73.0 4.8L74.3 4.3L76.8 4.3L78.1 4.8L79.5 6.0L80.3 6.1L80.8 5.7L81.0 5.4L81.0 4.9L80.7 4.4L79.1 3.0L77.0 2.4ZM4.0 2.4L2.0 3.0L0.3 4.4L0.0 5.1L0.0 6.3L0.1 6.8L0.9 8.1L1.9 9.0L3.3 9.7L6.7 10.7L8.1 11.3L8.5 11.7L9.0 12.6L9.0 13.8L8.2 14.5L6.8 14.9L4.4 15.0L2.9 14.5L1.6 13.3L0.9 13.2L0.5 13.3L0.1 13.7L0.1 14.4L0.2 14.7L1.7 16.1L3.9 16.9L7.1 16.9L9.3 16.1L10.8 14.7L11.0 14.1L11.0 12.4L10.9 11.9L10.1 10.6L9.1 9.6L7.9 9.1L4.2 7.9L2.9 7.3L2.5 7.0L2.1 6.1L2.1 5.6L2.9 4.8L4.2 4.3L6.8 4.3L8.1 4.8L9.5 6.0L10.3 6.1L10.8 5.7L10.9 5.4L10.9 4.9L10.7 4.4L9.0 3.0L7.0 2.4ZM147.8 1.8L147.4 2.1L146.8 2.6L146.5 3.0L146.4 3.4L146.6 3.8L147.6 4.8L147.8 4.9L148.4 4.9L148.7 4.8L149.6 3.9L149.8 3.6L149.8 3.1L148.7 1.9L148.4 1.8ZM96.2 1.8L95.0 2.8L94.9 3.1L94.9 3.6L95.0 3.9L95.9 4.7L96.3 4.9L96.8 4.9L97.3 4.6L98.1 3.8L98.2 3.3L98.0 2.7L97.3 2.1L96.8 1.8ZM179.7 0.0L179.1 0.4L178.9 0.8L179.0 1.3L179.4 1.8L179.7 1.9L183.4 1.9L183.4 19.1L179.7 19.2L179.1 19.6L178.9 20.0L178.9 20.3L179.1 20.6L179.4 20.9L179.9 21.1L184.5 21.1L184.9 21.0L185.4 20.4L185.4 0.8L185.3 0.4L184.7 0.0ZM126.8 0.0L126.2 0.4L126.1 0.8L126.1 20.3L126.2 20.6L126.6 21.0L127.0 21.1L131.6 21.1L132.0 21.0L132.4 20.6L132.6 20.3L132.5 19.8L132.1 19.3L131.8 19.2L128.1 19.1L128.1 1.9L131.8 1.9L132.4 1.4L132.6 0.8L132.4 0.4L131.8 0.0Z"/>
<g fill="#686868"><rect x="789" y="598" width="1" height="1"/><rect x="790" y="597" width="1" height="1"/><rect x="791" y="596" width="1" height="1"/><rect x="792" y="595" width="1" height="1"/><rect x="793" y="594" width="1" height="1"/><rect x="794" y="593" width="1" height="1"/><rect x="795" y="592" width="1" height="1"/><rect x="796" y="591" width="1" height="1"/><rect x="797" y="590" width="1" height="1"/><rect x="798" y="589" width="1" height="1"/><rect x="793" y="598" width="1" height="1"/><rect x="794" y="597" width="1" height="1"/><rect x="795" y="596" width="1" height="1"/><rect x="796" y="595" width="1" height="1"/><rect x="797" y="594" width="1" height="1"/><rect x="798" y="593" width="1" height="1"/><rect x="797" y="598" width="1" height="1"/><rect x="798" y="597" width="1" height="1"/></g>
</svg>
</body></html>
